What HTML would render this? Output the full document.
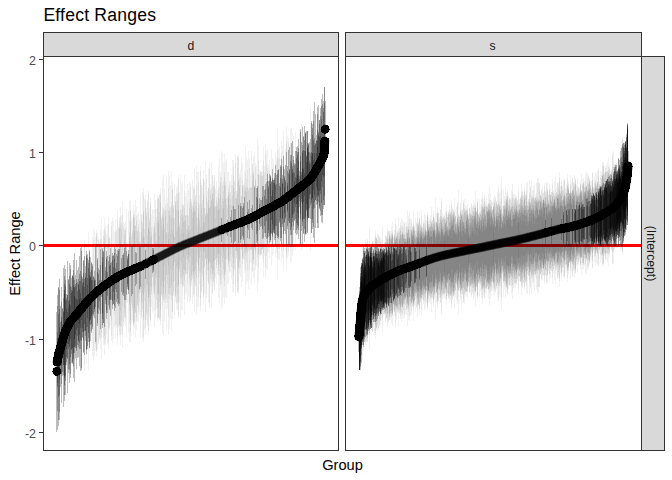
<!DOCTYPE html>
<html><head><meta charset="utf-8"><style>html,body{margin:0;padding:0;background:#fff;overflow:hidden}svg{display:block}text{font-family:"Liberation Sans",sans-serif}</style></head>
<body><svg width="672" height="480" viewBox="0 0 672 480">
<rect x="0" y="0" width="672" height="480" fill="#fff"/>
<text x="43.4" y="21.4" font-size="17.6" letter-spacing="0.2" fill="#000">Effect Ranges</text>
<rect x="43.5" y="32.5" width="295.0" height="24" fill="#D9D9D9" stroke="#333" stroke-width="1"/>
<text x="191.0" y="49.5" font-size="12.2" fill="#1A1A1A" text-anchor="middle">d</text>
<rect x="345.5" y="32.5" width="296.0" height="24" fill="#D9D9D9" stroke="#333" stroke-width="1"/>
<text x="492.6" y="49.5" font-size="12.2" fill="#1A1A1A" text-anchor="middle">s</text>
<rect x="641.5" y="56.5" width="23" height="394" fill="#D9D9D9" stroke="#333" stroke-width="1"/>
<text transform="translate(647.3,253.5) rotate(90)" font-size="12.2" fill="#1A1A1A" text-anchor="middle">(Intercept)</text>
<g shape-rendering="crispEdges" fill="#FF0000"><rect x="44" y="244" width="294" height="3"/><rect x="346" y="244" width="295" height="3"/></g>
<g stroke="#000" stroke-width="1" shape-rendering="crispEdges" fill="none">
<path stroke-opacity="0.055" d="M56.5 312v120M57.5 295v135M58.5 345v25M59.5 327v53M60.5 332v34M61.5 317v57M62.5 308v68M63.5 312v53M64.5 276v119M65.5 300v65M66.5 298v64M67.5 312v32M68.5 279v94M69.5 284v80M70.5 305v34M71.5 287v67M72.5 276v88M73.5 260v118M74.5 253v129M75.5 298v37M76.5 283v65M77.5 300v28M78.5 285v56M79.5 289v46M80.5 281v59M81.5 251v117M82.5 279v58M83.5 282v50M84.5 240v131M85.5 278v53M86.5 243v121M87.5 278v49M88.5 260v82M89.5 252v96M90.5 257v84M91.5 280v36M92.5 280v34M93.5 276v40M94.5 278v34M95.5 246v96M96.5 236v114M97.5 272v41M98.5 268v46M99.5 280v21M100.5 265v49M101.5 245v88M102.5 248v80M103.5 230v115M104.5 246v81M105.5 267v37M106.5 257v56M107.5 256v57M108.5 224v119M109.5 238v90M110.5 248v68M111.5 243v77M112.5 218v125M113.5 221v118M114.5 259v41M115.5 268v21M116.5 229v99M117.5 210v135M118.5 249v57M119.5 249v55M120.5 207v138M121.5 223v104M122.5 255v40M123.5 253v43M124.5 248v52M125.5 221v105M126.5 251v44M127.5 258v29M128.5 250v44M129.5 201v141M130.5 211v120M131.5 246v50M132.5 220v101M133.5 216v108M134.5 218v103M135.5 225v88M136.5 221v96M137.5 237v62M138.5 224v88M139.5 246v43M140.5 245v44M141.5 232v69M142.5 192v148M143.5 211v109M144.5 229v72M145.5 195v139M146.5 208v112M147.5 242v43M148.5 191v144M149.5 231v63M150.5 238v48M151.5 232v59M152.5 245v32M153.5 210v101M154.5 193v134M155.5 209v101M156.5 244v30M157.5 223v71M158.5 198v120M159.5 195v125M160.5 193v128M161.5 219v75M162.5 207v98M163.5 224v63M164.5 189v132M165.5 216v77M166.5 233v42M167.5 198v111M168.5 232v42M169.5 206v93M170.5 185v134M171.5 218v67M172.5 231v40M173.5 206v89M174.5 184v131M175.5 205v88M176.5 231v35M177.5 193v111M178.5 211v74M179.5 192v111M180.5 209v75M181.5 183v127M182.5 182v128M183.5 205v82M184.5 221v49M185.5 215v60M186.5 229v30M187.5 215v59M188.5 232v23M189.5 202v82M190.5 229v27M191.5 199v87M192.5 206v72M193.5 208v67M194.5 210v62M195.5 196v89M196.5 166v149M197.5 225v30M198.5 214v51M199.5 195v89M200.5 227v24M201.5 185v108M202.5 215v46M203.5 195v85M204.5 208v59M205.5 216v42M206.5 175v123M207.5 213v46M208.5 188v96M209.5 208v54M210.5 184v102M211.5 200v69M212.5 194v80M213.5 187v94M214.5 207v53M215.5 189v88M216.5 181v103M217.5 190v84M218.5 210v43M219.5 199v65M220.5 195v72M221.5 205v51M222.5 210v40M223.5 201v57M224.5 185v89M225.5 186v86M226.5 159v139M227.5 208v40M228.5 195v66M229.5 193v68M230.5 217v20M231.5 210v33M232.5 205v43M233.5 176v100M234.5 180v91M235.5 209v32M236.5 199v52M237.5 156v137M238.5 181v86M239.5 178v91M240.5 169v108M241.5 196v54M242.5 163v119M243.5 185v74M244.5 170v103M245.5 191v60M246.5 179v83M247.5 170v101M248.5 209v21M249.5 188v63M250.5 187v63M251.5 187v63M252.5 173v90M253.5 176v83M254.5 152v130M255.5 163v107M256.5 209v14M257.5 174v83M258.5 175v79M259.5 175v79M260.5 172v83M261.5 200v26M262.5 197v32M263.5 186v52M264.5 196v30M265.5 189v44M266.5 182v57M267.5 174v72M268.5 181v56M269.5 160v98M270.5 177v63M271.5 196v24M272.5 178v59M273.5 160v94M274.5 173v67M275.5 173v65M276.5 184v42M277.5 174v62M278.5 159v90M279.5 186v35M280.5 165v76M281.5 166v72M282.5 179v45M283.5 131v140M284.5 187v26M285.5 149v101M286.5 141v116M287.5 171v55M288.5 173v48M289.5 170v53M290.5 129v134M291.5 163v64M292.5 133v122M293.5 136v115M294.5 165v55M295.5 177v30M296.5 178v26M297.5 168v45M298.5 161v57M299.5 171v36M300.5 132v112M301.5 172v30M302.5 153v67M303.5 169v33M304.5 151v68M305.5 133v101M306.5 155v56M307.5 147v71M308.5 145v73M309.5 161v38M310.5 108v143M311.5 123v110M312.5 135v84M313.5 160v30M314.5 153v42M315.5 144v56M316.5 140v61M317.5 147v43M318.5 132v70M319.5 124v82M320.5 116v95M321.5 143v38M322.5 145v30M323.5 137v40M324.5 103v102M325.5 101v57"/>
<path stroke-opacity="0.055" d="M57.5 338v45M58.5 287v139M59.5 309v86M60.5 332v32M61.5 287v116M62.5 329v25M63.5 311v54M64.5 294v82M65.5 269v126M66.5 294v71M67.5 295v64M68.5 307v37M69.5 300v47M70.5 265v113M71.5 293v56M72.5 291v57M73.5 285v68M74.5 288v59M75.5 275v83M76.5 279v72M77.5 270v88M78.5 279v68M79.5 281v62M80.5 293v35M81.5 298v22M82.5 277v61M83.5 261v91M84.5 287v37M85.5 273v63M86.5 256v93M87.5 258v88M88.5 232v138M89.5 279v42M90.5 272v53M91.5 262v71M92.5 237v119M93.5 240v111M94.5 281v28M95.5 237v114M96.5 244v97M97.5 258v68M98.5 240v102M99.5 240v100M100.5 249v80M101.5 280v17M102.5 257v62M103.5 252v71M104.5 218v137M105.5 271v29M106.5 251v68M107.5 225v119M108.5 218v131M109.5 266v34M110.5 265v34M111.5 262v38M112.5 253v56M113.5 256v48M114.5 253v53M115.5 249v59M116.5 254v48M117.5 256v43M118.5 228v98M119.5 229v95M120.5 240v71M121.5 215v120M122.5 201v147M123.5 227v95M124.5 230v87M125.5 230v87M126.5 209v128M127.5 256v33M128.5 254v36M129.5 242v60M130.5 210v123M131.5 240v62M132.5 246v48M133.5 205v129M134.5 231v77M135.5 252v34M136.5 207v123M137.5 231v74M138.5 242v51M139.5 243v48M140.5 195v143M141.5 221v91M142.5 223v86M143.5 194v143M144.5 199v131M145.5 250v29M146.5 213v102M147.5 200v127M148.5 213v100M149.5 208v109M150.5 205v114M151.5 227v68M152.5 209v104M153.5 234v53M154.5 229v61M155.5 233v52M156.5 240v38M157.5 195v126M158.5 199v118M159.5 212v90M160.5 188v137M161.5 216v80M162.5 214v83M163.5 211v88M164.5 228v53M165.5 200v109M166.5 177v153M167.5 223v61M168.5 171v163M169.5 176v153M170.5 215v73M171.5 202v99M172.5 190v122M173.5 218v64M174.5 218v63M175.5 202v94M176.5 210v77M177.5 201v94M178.5 179v137M179.5 226v43M180.5 175v144M181.5 209v75M182.5 207v78M183.5 215v61M184.5 191v108M185.5 216v57M186.5 234v20M187.5 204v80M188.5 225v38M189.5 230v27M190.5 184v117M191.5 205v75M192.5 212v60M193.5 212v59M194.5 189v105M195.5 212v57M196.5 217v46M197.5 232v16M198.5 203v74M199.5 221v36M200.5 180v118M201.5 204v69M202.5 227v22M203.5 179v118M204.5 208v59M205.5 213v47M206.5 209v55M207.5 214v44M208.5 208v56M209.5 169v133M210.5 206v58M211.5 201v67M212.5 194v80M213.5 198v72M214.5 175v116M215.5 207v52M216.5 197v71M217.5 202v60M218.5 193v78M219.5 187v89M220.5 177v108M221.5 177v107M222.5 185v90M223.5 191v78M224.5 154v150M225.5 161v136M226.5 223v11M227.5 196v64M228.5 172v111M229.5 184v87M230.5 192v70M231.5 175v103M232.5 195v62M233.5 160v132M234.5 192v67M235.5 154v142M236.5 191v68M237.5 157v135M238.5 180v88M239.5 173v101M240.5 206v34M241.5 196v53M242.5 188v69M243.5 206v32M244.5 190v63M245.5 172v98M246.5 157v127M247.5 202v36M248.5 151v138M249.5 200v39M250.5 213v11M251.5 188v61M252.5 164v108M253.5 171v93M254.5 185v64M255.5 179v75M256.5 188v55M257.5 138v154M258.5 174v81M259.5 169v90M260.5 171v85M261.5 171v84M262.5 176v73M263.5 147v130M264.5 190v43M265.5 144v134M266.5 199v22M267.5 172v76M268.5 186v47M269.5 170v78M270.5 175v67M271.5 182v51M272.5 169v76M273.5 180v53M274.5 180v53M275.5 165v81M276.5 175v60M277.5 151v107M278.5 149v110M279.5 147v113M280.5 167v71M281.5 159v86M282.5 145v113M283.5 151v100M284.5 169v62M285.5 165v69M286.5 144v109M287.5 186v24M288.5 150v94M289.5 175v43M290.5 143v105M291.5 155v80M292.5 166v56M293.5 156v74M294.5 173v39M295.5 151v82M296.5 147v88M297.5 146v88M298.5 152v74M299.5 130v117M300.5 162v52M301.5 175v24M302.5 151v71M303.5 136v98M304.5 140v89M305.5 151v66M306.5 162v42M307.5 148v68M308.5 152v58M309.5 152v56M310.5 153v52M311.5 156v44M312.5 124v105M313.5 140v69M314.5 145v57M315.5 143v57M316.5 135v70M317.5 114v109M318.5 105v123M319.5 120v89M320.5 136v54M321.5 119v84M322.5 104v111M323.5 108v97M324.5 126v50"/>
<path stroke-opacity="0.055" d="M57.5 332v55M58.5 314v83M59.5 341v21M60.5 322v51M61.5 321v45M62.5 309v63M63.5 268v139M64.5 284v101M65.5 286v90M66.5 309v40M67.5 261v132M68.5 301v48M69.5 263v120M70.5 286v71M71.5 278v85M72.5 276v86M73.5 277v82M74.5 296v43M75.5 284v64M76.5 260v109M77.5 291v45M78.5 284v57M79.5 299v25M80.5 271v78M81.5 276v65M82.5 283v49M83.5 273v67M84.5 256v99M85.5 277v53M86.5 255v95M87.5 285v33M88.5 263v75M89.5 257v85M90.5 277v43M91.5 270v54M92.5 264v65M93.5 277v37M94.5 280v29M95.5 280v27M96.5 233v119M97.5 234v116M98.5 274v34M99.5 243v94M100.5 229v120M101.5 239v99M102.5 250v75M103.5 236v102M104.5 237v99M105.5 226v119M106.5 234v101M107.5 272v24M108.5 238v90M109.5 236v94M110.5 238v87M111.5 221v120M112.5 260v41M113.5 267v25M114.5 243v72M115.5 219v119M116.5 263v29M117.5 220v115M118.5 251v52M119.5 221v111M120.5 216v119M121.5 258v34M122.5 244v62M123.5 222v104M124.5 234v79M125.5 247v53M126.5 243v59M127.5 242v61M128.5 211v122M129.5 232v79M130.5 222v98M131.5 236v69M132.5 230v81M133.5 217v106M134.5 210v118M135.5 226v86M136.5 216v105M137.5 215v106M138.5 227v81M139.5 242v51M140.5 246v41M141.5 215v102M142.5 238v55M143.5 213v104M144.5 242v46M145.5 208v112M146.5 216v96M147.5 202v122M148.5 228v70M149.5 222v80M150.5 198v128M151.5 215v92M152.5 248v25M153.5 227v66M154.5 226v68M155.5 242v34M156.5 209v99M157.5 208v100M158.5 223v70M159.5 236v42M160.5 203v107M161.5 226v60M162.5 230v52M163.5 175v161M164.5 209v91M165.5 205v98M166.5 209v90M167.5 244v18M168.5 211v83M169.5 216v72M170.5 208v87M171.5 171v160M172.5 189v123M173.5 234v32M174.5 237v25M175.5 196v106M176.5 188v121M177.5 227v42M178.5 193v109M179.5 228v38M180.5 234v26M181.5 214v65M182.5 217v58M183.5 222v47M184.5 175v140M185.5 220v50M186.5 215v59M187.5 229v30M188.5 226v35M189.5 208v70M190.5 199v87M191.5 209v67M192.5 218v47M193.5 203v77M194.5 199v84M195.5 195v92M196.5 185v111M197.5 218v44M198.5 182v115M199.5 205v68M200.5 166v145M201.5 208v61M202.5 200v76M203.5 223v29M204.5 222v30M205.5 215v43M206.5 179v115M207.5 202v68M208.5 188v95M209.5 208v54M210.5 190v89M211.5 188v93M212.5 175v118M213.5 181v105M214.5 177v113M215.5 206v54M216.5 200v65M217.5 210v44M218.5 166v132M219.5 158v146M220.5 172v118M221.5 151v158M222.5 153v154M223.5 163v134M224.5 172v114M225.5 199v60M226.5 198v61M227.5 220v16M228.5 192v72M229.5 205v44M230.5 199v55M231.5 205v43M232.5 185v83M233.5 167v117M234.5 182v87M235.5 163v124M236.5 198v53M237.5 194v61M238.5 154v139M239.5 187v73M240.5 203v40M241.5 206v33M242.5 185v74M243.5 185v74M244.5 197v49M245.5 187v68M246.5 192v57M247.5 160v121M248.5 191v57M249.5 159v121M250.5 175v88M251.5 151v134M252.5 181v73M253.5 156v122M254.5 187v59M255.5 167v98M256.5 165v101M257.5 199v32M258.5 146v137M259.5 198v32M260.5 173v81M261.5 172v82M262.5 186v53M263.5 171v82M264.5 172v78M265.5 184v53M266.5 151v118M267.5 168v84M268.5 165v88M269.5 174v69M270.5 184v49M271.5 149v117M272.5 180v55M273.5 183v47M274.5 178v56M275.5 185v41M276.5 157v96M277.5 160v89M278.5 169v70M279.5 158v91M280.5 187v31M281.5 154v96M282.5 183v36M283.5 156v89M284.5 178v44M285.5 182v35M286.5 152v93M287.5 183v29M288.5 138v118M289.5 147v98M290.5 161v69M291.5 128v133M292.5 173v42M293.5 160v66M294.5 181v22M295.5 164v55M296.5 158v65M297.5 155v70M298.5 139v100M299.5 176v25M300.5 156v63M301.5 124v126M302.5 168v36M303.5 137v96M304.5 173v23M305.5 134v99M306.5 157v52M307.5 131v101M308.5 144v74M309.5 164v31M310.5 139v80M311.5 152v51M312.5 154v44M313.5 111v127M314.5 138v70M315.5 162v19M316.5 153v34M317.5 141v54M318.5 136v59M319.5 120v88M320.5 131v63M321.5 106v109M322.5 130v57M323.5 112v88M324.5 87v118"/>
<path stroke-opacity="0.055" d="M57.5 306v105M58.5 288v132M59.5 290v122M60.5 306v81M61.5 302v82M62.5 324v31M63.5 298v77M64.5 290v88M65.5 280v101M66.5 300v57M67.5 295v63M68.5 280v89M69.5 276v94M70.5 269v105M71.5 290v60M72.5 275v88M73.5 270v96M74.5 287v60M75.5 286v60M76.5 299v31M77.5 282v63M78.5 267v90M79.5 274v75M80.5 248v123M81.5 247v123M82.5 286v42M83.5 260v93M84.5 279v52M85.5 266v75M86.5 251v103M87.5 254v95M88.5 268v65M89.5 275v49M90.5 277v42M91.5 263v68M92.5 266v61M93.5 229v132M94.5 271v47M95.5 243v101M96.5 229v127M97.5 260v63M98.5 238v106M99.5 245v90M100.5 239v100M101.5 218v140M102.5 262v51M103.5 251v72M104.5 244v84M105.5 231v108M106.5 259v51M107.5 245v78M108.5 261v44M109.5 257v51M110.5 263v37M111.5 226v110M112.5 256v49M113.5 255v49M114.5 231v96M115.5 232v93M116.5 231v94M117.5 250v54M118.5 226v101M119.5 227v98M120.5 225v101M121.5 229v92M122.5 215v119M123.5 255v38M124.5 240v68M125.5 228v91M126.5 246v54M127.5 260v24M128.5 254v36M129.5 220v103M130.5 200v142M131.5 217v107M132.5 233v75M133.5 213v113M134.5 215v108M135.5 200v138M136.5 253v31M137.5 231v74M138.5 212v111M139.5 232v70M140.5 241v51M141.5 214v105M142.5 228v75M143.5 236v59M144.5 237v55M145.5 200v128M146.5 244v40M147.5 235v57M148.5 228v69M149.5 218v89M150.5 202v119M151.5 236v51M152.5 245v32M153.5 250v20M154.5 222v75M155.5 200v118M156.5 217v83M157.5 198v120M158.5 197v121M159.5 195v124M160.5 196v121M161.5 217v78M162.5 178v155M163.5 217v76M164.5 244v21M165.5 211v86M166.5 232v43M167.5 203v100M168.5 188v129M169.5 210v84M170.5 234v35M171.5 206v90M172.5 182v137M173.5 204v92M174.5 237v25M175.5 201v96M176.5 194v109M177.5 185v126M178.5 209v77M179.5 223v49M180.5 216v61M181.5 229v34M182.5 204v83M183.5 233v24M184.5 208v73M185.5 196v97M186.5 193v102M187.5 184v119M188.5 216v54M189.5 182v121M190.5 187v111M191.5 202v80M192.5 180v124M193.5 186v111M194.5 169v143M195.5 206v69M196.5 202v76M197.5 172v135M198.5 172v135M199.5 219v40M200.5 171v135M201.5 185v106M202.5 188v99M203.5 170v135M204.5 181v112M205.5 162v150M206.5 197v78M207.5 191v90M208.5 200v71M209.5 162v146M210.5 195v80M211.5 162v145M212.5 175v118M213.5 185v97M214.5 187v92M215.5 218v29M216.5 207v51M217.5 205v53M218.5 198v67M219.5 209v45M220.5 182v98M221.5 218v24M222.5 198v64M223.5 208v43M224.5 177v104M225.5 182v93M226.5 205v46M227.5 172v112M228.5 198v59M229.5 181v92M230.5 181v91M231.5 185v82M232.5 160v132M233.5 188v75M234.5 209v33M235.5 198v53M236.5 191v67M237.5 168v113M238.5 158v132M239.5 185v77M240.5 177v91M241.5 158v129M242.5 208v28M243.5 203v37M244.5 183v77M245.5 146v150M246.5 188v64M247.5 187v66M248.5 189v61M249.5 168v102M250.5 188v61M251.5 208v20M252.5 205v25M253.5 174v86M254.5 185v63M255.5 181v70M256.5 197v37M257.5 186v58M258.5 161v107M259.5 204v20M260.5 200v27M261.5 176v74M262.5 175v74M263.5 161v101M264.5 166v90M265.5 154v113M266.5 164v92M267.5 149v121M268.5 188v42M269.5 181v55M270.5 176v64M271.5 181v53M272.5 190v34M273.5 180v52M274.5 183v46M275.5 153v104M276.5 162v86M277.5 128v152M278.5 170v67M279.5 183v40M280.5 178v49M281.5 141v121M282.5 175v52M283.5 167v67M284.5 176v47M285.5 180v39M286.5 127v143M287.5 166v63M288.5 142v109M289.5 169v54M290.5 155v80M291.5 143v104M292.5 141v105M293.5 172v42M294.5 163v58M295.5 132v118M296.5 151v79M297.5 152v76M298.5 148v82M299.5 179v18M300.5 129v116M301.5 142v89M302.5 127v118M303.5 150v69M304.5 126v116M305.5 132v103M306.5 131v103M307.5 131v102M308.5 143v75M309.5 142v76M310.5 163v31M311.5 121v112M312.5 128v95M313.5 121v106M314.5 102v141M315.5 114v114M316.5 141v56M317.5 107v121M318.5 134v63M319.5 137v54M320.5 108v108M321.5 99v123M322.5 94v129M323.5 101v108M324.5 87v109"/>
<path stroke-opacity="0.055" d="M59.5 279v141M64.5 265v136M69.5 304v37M74.5 280v73M79.5 256v110M84.5 245v120M89.5 250v98M94.5 231v126M99.5 270v40M104.5 228v116M109.5 255v55M114.5 247v64M119.5 217v118M124.5 224v99M129.5 237v68M134.5 226v87M139.5 219v96M143.5 188v154M148.5 194v137M153.5 248v24M158.5 220v75M163.5 208v94M168.5 239v27M173.5 208v83M178.5 177v141M183.5 205v80M188.5 190v107M193.5 188v107M198.5 208v63M203.5 179v116M208.5 168v135M213.5 205v57M218.5 188v87M223.5 181v97M228.5 188v79M233.5 206v39M238.5 205v38M242.5 180v84M247.5 212v16M252.5 164v107M257.5 188v53M262.5 165v94M267.5 181v57M272.5 158v98M277.5 170v68M282.5 184v34M287.5 136v123M292.5 169v49M297.5 175v29M302.5 145v81M307.5 143v77M312.5 153v45M317.5 130v74M322.5 149v17"/>
<path stroke-opacity="0.22" d="M56.5 312v120M57.5 295v135M58.5 345v25M59.5 327v53M60.5 332v34M61.5 317v57M62.5 308v68M63.5 312v53M64.5 276v119M65.5 300v65M66.5 298v64M67.5 312v32M68.5 279v94M69.5 284v80M70.5 305v34M71.5 287v67M72.5 276v88M73.5 260v118M74.5 253v129M75.5 298v37M76.5 283v65M77.5 300v28M78.5 285v56M79.5 289v46M80.5 281v59M81.5 251v117M82.5 279v58M83.5 282v50M84.5 287v37M85.5 278v53M86.5 256v93M87.5 278v49M88.5 260v82M89.5 252v96M90.5 257v84M91.5 280v36M92.5 280v34M93.5 276v40M94.5 278v34M95.5 246v96M97.5 272v41M98.5 268v46M99.5 280v21M100.5 265v49M101.5 280v17M102.5 248v80M103.5 252v71M104.5 246v81M105.5 267v37M106.5 257v56M107.5 256v57M108.5 261v44M109.5 266v34M110.5 248v68M111.5 262v38M112.5 253v56M113.5 256v48M114.5 259v41M115.5 268v21M116.5 254v48M117.5 256v43M118.5 249v57M119.5 249v55M121.5 258v34M122.5 255v40M123.5 253v43M124.5 248v52M125.5 247v53M126.5 251v44M127.5 258v29M128.5 250v44M131.5 246v50M132.5 246v48M135.5 252v34M136.5 253v31M139.5 246v43M140.5 246v41M145.5 250v29M152.5 248v25M153.5 250v20M221.5 218v24M226.5 223v11M227.5 220v16M230.5 217v20M231.5 210v33M233.5 206v39M234.5 209v33M235.5 209v32M238.5 205v38M240.5 206v34M241.5 206v33M242.5 208v28M243.5 206v32M244.5 197v49M247.5 202v36M248.5 209v21M249.5 200v39M250.5 213v11M251.5 208v20M252.5 205v25M254.5 187v59M256.5 209v14M257.5 199v32M259.5 198v32M260.5 200v27M261.5 200v26M262.5 197v32M263.5 186v52M264.5 196v30M265.5 189v44M266.5 182v57M267.5 174v72M268.5 181v56M269.5 174v69M270.5 177v63M271.5 196v24M272.5 178v59M273.5 180v53M274.5 173v67M275.5 173v65M276.5 184v42M277.5 174v62M278.5 169v70M279.5 186v35M280.5 165v76M281.5 166v72M282.5 179v45M283.5 156v89M284.5 187v26M285.5 165v69M286.5 152v93M287.5 171v55M288.5 173v48M289.5 170v53M290.5 161v69M291.5 163v64M292.5 166v56M293.5 156v74M294.5 165v55M295.5 177v30M296.5 178v26M297.5 168v45M298.5 161v57M299.5 171v36M300.5 132v112M301.5 172v30M302.5 153v67M303.5 169v33M304.5 151v68M305.5 133v101M306.5 155v56M307.5 147v71M308.5 145v73M309.5 161v38M310.5 153v52M311.5 123v110M312.5 135v84M313.5 160v30M314.5 153v42M315.5 144v56M316.5 140v61M317.5 147v43M318.5 132v70M319.5 124v82M320.5 116v95M321.5 143v38M322.5 145v30M323.5 137v40M324.5 103v102M325.5 101v57"/>
<path stroke-opacity="0.22" d="M57.5 338v45M58.5 287v139M59.5 309v86M60.5 332v32M61.5 287v116M62.5 329v25M63.5 311v54M64.5 294v82M65.5 269v126M66.5 294v71M67.5 295v64M68.5 307v37M69.5 300v47M70.5 265v113M71.5 293v56M72.5 291v57M73.5 285v68M74.5 288v59M75.5 275v83M76.5 279v72M77.5 270v88M78.5 279v68M79.5 281v62M80.5 293v35M81.5 298v22M82.5 277v61M83.5 261v91M84.5 256v99M85.5 273v63M86.5 255v95M87.5 258v88M88.5 263v75M89.5 279v42M90.5 272v53M91.5 262v71M92.5 264v65M93.5 277v37M94.5 281v28M95.5 280v27M97.5 258v68M98.5 274v34M99.5 270v40M100.5 249v80M102.5 257v62M103.5 251v72M105.5 271v29M106.5 251v68M107.5 272v24M109.5 257v51M110.5 265v34M112.5 260v41M113.5 267v25M114.5 253v53M115.5 249v59M116.5 263v29M117.5 250v54M118.5 251v52M123.5 255v38M127.5 256v33M128.5 254v36M153.5 248v24M240.5 203v40M243.5 203v37M247.5 212v16M256.5 188v55M257.5 186v58M259.5 204v20M262.5 186v53M264.5 190v43M265.5 184v53M266.5 199v22M267.5 181v57M268.5 186v47M269.5 181v55M270.5 175v67M271.5 182v51M272.5 169v76M273.5 183v47M274.5 180v53M275.5 165v81M276.5 175v60M277.5 170v68M278.5 170v67M279.5 183v40M280.5 167v71M281.5 159v86M282.5 183v36M283.5 167v67M284.5 169v62M285.5 182v35M287.5 186v24M288.5 150v94M289.5 175v43M290.5 155v80M291.5 155v80M292.5 173v42M293.5 160v66M294.5 173v39M295.5 151v82M296.5 147v88M297.5 146v88M298.5 152v74M299.5 176v25M300.5 162v52M301.5 175v24M302.5 151v71M303.5 136v98M304.5 140v89M305.5 151v66M306.5 162v42M307.5 148v68M308.5 152v58M309.5 152v56M310.5 139v80M311.5 156v44M312.5 124v105M313.5 140v69M314.5 145v57M315.5 143v57M316.5 135v70M317.5 114v109M318.5 105v123M319.5 120v89M320.5 136v54M321.5 119v84M322.5 104v111M323.5 108v97M324.5 126v50"/>
<path stroke-opacity="0.22" d="M57.5 332v55M58.5 314v83M59.5 341v21M60.5 322v51M61.5 321v45M62.5 309v63M63.5 268v139M64.5 284v101M65.5 286v90M66.5 309v40M67.5 261v132M68.5 301v48M69.5 263v120M70.5 286v71M71.5 278v85M72.5 276v86M73.5 277v82M74.5 296v43M75.5 284v64M76.5 260v109M77.5 291v45M78.5 284v57M79.5 299v25M80.5 271v78M81.5 276v65M82.5 283v49M83.5 273v67M84.5 279v52M85.5 277v53M86.5 251v103M87.5 285v33M88.5 268v65M89.5 257v85M90.5 277v43M91.5 270v54M92.5 266v61M94.5 280v29M97.5 260v63M102.5 250v75M106.5 259v51M109.5 255v55M110.5 263v37M112.5 256v49M113.5 255v49M114.5 247v64M127.5 260v24M128.5 254v36M256.5 197v37M257.5 188v53M268.5 188v42M270.5 184v49M271.5 181v53M272.5 180v55M273.5 180v52M274.5 178v56M275.5 185v41M280.5 187v31M282.5 175v52M284.5 178v44M285.5 180v39M287.5 183v29M289.5 147v98M291.5 143v104M292.5 141v105M293.5 172v42M294.5 181v22M295.5 164v55M296.5 158v65M297.5 155v70M298.5 139v100M299.5 179v18M300.5 156v63M301.5 142v89M302.5 168v36M303.5 137v96M304.5 173v23M305.5 134v99M306.5 157v52M307.5 131v101M308.5 144v74M309.5 164v31M310.5 163v31M311.5 152v51M312.5 154v44M313.5 111v127M314.5 138v70M315.5 162v19M316.5 153v34M317.5 141v54M318.5 136v59M319.5 120v88M320.5 131v63M321.5 106v109M322.5 130v57M323.5 112v88M324.5 87v118"/>
<path stroke-opacity="0.22" d="M57.5 306v105M58.5 288v132M59.5 290v122M60.5 306v81M61.5 302v82M62.5 324v31M63.5 298v77M64.5 290v88M65.5 280v101M66.5 300v57M67.5 295v63M68.5 280v89M69.5 276v94M70.5 269v105M71.5 290v60M72.5 275v88M73.5 270v96M74.5 287v60M75.5 286v60M76.5 299v31M77.5 282v63M78.5 267v90M79.5 274v75M80.5 248v123M81.5 247v123M82.5 286v42M83.5 260v93M85.5 266v75M87.5 254v95M89.5 275v49M90.5 277v42M91.5 263v68M94.5 271v47M102.5 262v51M270.5 176v64M272.5 190v34M274.5 183v46M280.5 178v49M282.5 184v34M284.5 176v47M287.5 166v63M289.5 169v54M292.5 169v49M294.5 163v58M296.5 151v79M297.5 152v76M298.5 148v82M300.5 129v116M302.5 127v118M303.5 150v69M304.5 126v116M305.5 132v103M306.5 131v103M307.5 131v102M308.5 143v75M309.5 142v76M311.5 121v112M312.5 128v95M313.5 121v106M314.5 102v141M315.5 114v114M316.5 141v56M317.5 107v121M318.5 134v63M319.5 137v54M320.5 108v108M321.5 99v123M322.5 94v129M323.5 101v108M324.5 87v109"/>
<path stroke-opacity="0.22" d="M59.5 279v141M64.5 265v136M69.5 304v37M74.5 280v73M79.5 256v110M89.5 250v98M297.5 175v29M302.5 145v81M307.5 143v77M312.5 153v45M317.5 130v74M322.5 149v17"/>
</g>
<defs><path id="nsd" d="M56.9 371.3h0M57.1 362.0L57.4 360.1 57.6 359.1 57.9 358.2 58.1 357.1 58.3 355.9 58.6 354.9 58.8 353.8 59.0 352.8 59.3 351.9 59.5 351.0 59.8 350.2 60.0 349.3 60.2 348.5 60.5 347.7 60.7 346.9 60.9 346.1 61.2 345.2 61.4 344.4 61.7 343.5 61.9 342.5 62.1 341.6 62.4 340.7 62.6 339.8 62.8 339.0 63.1 338.2 63.3 337.4 63.6 336.7 63.8 336.0 64.0 335.2 64.3 334.5 64.8 333.2 65.2 331.9 65.7 330.7 66.2 329.6 66.7 328.5 67.1 327.4 67.6 326.4 68.1 325.4 68.6 324.4 69.0 323.6 69.5 322.8 70.0 322.0 70.7 321.0 71.4 320.1 72.1 319.3 72.8 318.6 73.6 317.9 74.3 317.1 75.0 316.3 75.7 315.5 76.4 314.6 77.1 313.8 77.8 312.9 78.6 312.0 79.3 311.2 80.0 310.3 80.7 309.4 81.4 308.5 82.1 307.6 82.8 306.7 83.6 305.9 84.3 305.0 85.0 304.1 85.7 303.3 86.4 302.4 87.1 301.6 87.8 300.8 88.6 300.0 89.3 299.3 90.0 298.5 90.7 297.8 91.4 297.1 92.1 296.4 92.8 295.7 93.5 295.0 94.3 294.3 95.0 293.6 95.7 293.0 96.4 292.3 97.1 291.7 97.8 291.1 98.5 290.5 99.3 289.9 100.0 289.3 100.7 288.8 101.4 288.2 102.1 287.6 102.8 287.1 103.5 286.5 104.3 286.0 105.0 285.4 105.7 284.9 106.4 284.4 107.1 283.8 107.8 283.3 108.5 282.8 109.3 282.3 110.0 281.8 110.7 281.3 111.4 280.8 112.1 280.3 112.8 279.8 113.5 279.4 114.3 278.9 115.0 278.5 115.7 278.0 116.4 277.6 117.1 277.1 117.8 276.7 118.5 276.3 119.2 275.9 120.0 275.5 120.7 275.1 121.4 274.8 122.1 274.4 122.8 274.0 123.5 273.7 124.2 273.4 125.0 273.0 125.7 272.7 126.4 272.4 127.1 272.1 127.8 271.8 128.5 271.4 129.2 271.1 130.0 270.8 130.7 270.5 131.4 270.2 132.1 269.9 132.8 269.6 133.5 269.3 134.2 269.0 135.0 268.7 135.7 268.4 136.4 268.1 137.1 267.8 137.8 267.5 138.5 267.2 139.2 266.9 140.0 266.5 140.7 266.2 141.4 265.8 142.1 265.5 142.8 265.1 143.5 264.8 144.2 264.5 145.0 264.1 145.7 263.7 146.4 263.4 147.1 263.0 147.8 262.7 148.5 262.3 149.2 262.0 149.9 261.6 150.7 261.2 151.4 260.9 152.1 260.5 152.8 260.1 153.5 259.8 154.2 259.4 154.9 259.1 155.7 258.7 156.4 258.3 157.1 258.0 157.8 257.6 158.5 257.2 159.2 256.9 159.9 256.5 160.7 256.2 161.4 255.8 162.1 255.4 162.8 255.1 163.5 254.7 164.2 254.3 164.9 254.0 165.7 253.6 166.4 253.2 167.1 252.9 167.8 252.5 168.5 252.1 169.2 251.8 169.9 251.4 170.7 251.0 171.4 250.7 172.1 250.3 172.8 249.9 173.5 249.6 174.2 249.2 174.9 248.9 175.7 248.5 176.4 248.2 177.1 247.8 177.8 247.5 178.5 247.2 179.2 246.8 179.9 246.5 180.6 246.2 181.4 245.9 182.1 245.6 182.8 245.3 183.5 245.0 184.2 244.7 184.9 244.4 185.6 244.1 186.4 243.8 187.1 243.5 187.8 243.3 188.5 243.0 189.2 242.7 189.9 242.4 190.6 242.1 191.4 241.9 192.1 241.6 192.8 241.3 193.5 241.0 194.2 240.8 194.9 240.5 195.6 240.2 196.4 239.9 197.1 239.7 197.8 239.4 198.5 239.1 199.2 238.8 199.9 238.5 200.6 238.2 201.4 238.0 202.1 237.7 202.8 237.4 203.5 237.1 204.2 236.8 204.9 236.5 205.6 236.2 206.3 236.0 207.1 235.7 207.8 235.4 208.5 235.1 209.2 234.8 209.9 234.5 210.6 234.2 211.3 234.0 212.1 233.7 212.8 233.4 213.5 233.1 214.2 232.8 214.9 232.5 215.6 232.2 216.3 232.0 217.1 231.7 217.8 231.4 218.5 231.1 219.2 230.8 219.9 230.5 220.6 230.2 221.3 230.0 222.1 229.7 222.8 229.4 223.5 229.1 224.2 228.8 224.9 228.5 225.6 228.3 226.3 228.0 227.1 227.7 227.8 227.4 228.5 227.1 229.2 226.9 229.9 226.6 230.6 226.3 231.3 226.0 232.1 225.8 232.8 225.5 233.5 225.2 234.2 225.0 234.9 224.7 235.6 224.4 236.3 224.1 237.0 223.9 237.8 223.6 238.5 223.3 239.2 223.0 239.9 222.8 240.6 222.5 241.3 222.2 242.0 221.9 242.8 221.6 243.5 221.3 244.2 221.0 244.9 220.7 245.6 220.4 246.3 220.1 247.0 219.8 247.8 219.5 248.5 219.2 249.2 218.9 249.9 218.5 250.6 218.2 251.3 217.9 252.0 217.5 252.8 217.2 253.5 216.8 254.2 216.4 254.9 216.0 255.6 215.7 256.3 215.3 257.0 214.9 257.8 214.5 258.5 214.1 259.2 213.7 259.9 213.3 260.6 212.9 261.3 212.5 262.0 212.1 262.8 211.7 263.5 211.3 264.2 210.9 264.9 210.6 265.6 210.2 266.3 209.8 267.0 209.4 267.7 209.1 268.5 208.7 269.2 208.3 269.9 208.0 270.6 207.6 271.3 207.3 272.0 206.9 272.7 206.5 273.5 206.2 274.2 205.8 274.9 205.4 275.6 205.0 276.3 204.6 277.0 204.2 277.7 203.8 278.5 203.4 279.2 203.0 279.9 202.6 280.6 202.1 281.3 201.7 282.0 201.2 282.7 200.7 283.5 200.2 284.2 199.7 284.9 199.2 285.6 198.7 286.3 198.2 287.0 197.7 287.7 197.1 288.5 196.6 289.2 196.0 289.9 195.5 290.6 194.9 291.3 194.4 292.0 193.8 292.7 193.3 293.4 192.7 294.2 192.1 294.9 191.6 295.6 191.0 296.3 190.4 297.0 189.8 297.7 189.3 298.4 188.7 299.2 188.2 299.9 187.6 300.6 187.0 301.3 186.5 302.0 185.9 302.7 185.4 303.4 184.8 304.2 184.2 304.9 183.6 305.6 183.0 306.3 182.4 307.0 181.8 307.7 181.2 308.4 180.6 309.2 179.9 309.9 179.1 310.6 178.3 311.3 177.4 312.0 176.5 312.7 175.4 313.2 174.7 313.7 174.0 314.2 173.3 314.6 172.5 315.1 171.7 315.6 170.9 316.1 170.0 316.5 169.1 317.0 168.3 317.5 167.4 318.0 166.6 318.4 165.8 318.9 165.0 319.4 164.2 319.9 163.3 320.3 162.5 320.8 161.6 321.3 160.7 321.8 159.8 322.2 158.8 322.7 157.7 323.2 156.5 323.7 155.3 323.9 154.5 324.1 153.3 324.4 150.4 324.6 145.6 324.9 141.1M325.1 129.2h0"/></defs><g fill="none" stroke="#000" stroke-linecap="round" stroke-linejoin="round"><use href="#nsd" stroke-opacity="0.45" stroke-width="9.0"/><use href="#nsd" stroke-opacity="0.782" stroke-width="7.4"/></g>
<path d="M56.9 371.3h0M57.1 362.0L57.4 360.1 57.6 359.1 57.9 358.2 58.1 357.1 58.3 355.9 58.6 354.9 58.8 353.8 59.0 352.8 59.3 351.9 59.5 351.0 59.8 350.2 60.0 349.3 60.2 348.5 60.5 347.7 60.7 346.9 60.9 346.1 61.2 345.2 61.4 344.4 61.7 343.5 61.9 342.5 62.1 341.6 62.4 340.7 62.6 339.8 62.8 339.0 63.1 338.2 63.3 337.4 63.6 336.7 63.8 336.0 64.0 335.2 64.3 334.5 64.8 333.2 65.2 331.9 65.7 330.7 66.2 329.6 66.7 328.5 67.1 327.4 67.6 326.4 68.1 325.4 68.6 324.4 69.0 323.6 69.5 322.8 70.0 322.0 70.7 321.0 71.4 320.1 72.1 319.3 72.8 318.6 73.6 317.9 74.3 317.1 75.0 316.3 75.7 315.5 76.4 314.6 77.1 313.8 77.8 312.9 78.6 312.0 79.3 311.2 80.0 310.3 80.7 309.4 81.4 308.5 82.1 307.6 82.8 306.7 83.6 305.9 83.8 305.6M84.3 305.0L84.7 304.4M85.2 303.8L85.9 303.0M86.4 302.4L87.1 301.6 87.8 300.8 88.1 300.6M88.6 300.0L89.3 299.3 90.0 298.5 90.7 297.8 91.4 297.1 92.1 296.4M92.6 295.9L93.1 295.4M93.5 295.0h0M94.0 294.5L94.7 293.9M95.2 293.4h0M95.7 293.0h0M97.1 291.7L97.4 291.5M97.8 291.1L98.1 290.9M98.5 290.5h0M99.0 290.1h0M100.0 289.3L100.4 288.9M101.4 288.2h0M102.1 287.6L102.8 287.1M103.3 286.7h0M103.8 286.3L104.0 286.1M105.2 285.2L105.4 285.1M106.2 284.5L106.4 284.4M106.9 284.0L107.1 283.8M107.6 283.5h0M108.8 282.6h0M109.3 282.3h0M109.7 281.9L110.4 281.4M110.9 281.1h0M111.4 280.8h0M112.3 280.2L112.8 279.8M113.3 279.5L114.0 279.1 114.3 278.9M115.0 278.5L115.4 278.2M116.4 277.6L116.6 277.4M117.3 277.0h0M117.8 276.7L118.1 276.6M118.5 276.3h0M119.0 276.0h0M121.6 274.6h0M122.1 274.4h0M123.1 273.9h0M123.8 273.6L124.0 273.5M125.7 272.7h0M126.2 272.5h0M127.1 272.1L127.3 272.0M127.8 271.8L128.3 271.5M128.8 271.3h0M131.1 270.3h0M132.3 269.8h0M135.4 268.5h0M136.9 267.9h0M139.0 267.0h0M140.7 266.2h0M145.4 263.9h0M152.6 260.3h0M153.8 259.7L154.0 259.5M221.8 229.8h0M226.3 228.0h0M227.5 227.5h0M230.1 226.5h0M231.1 226.1h0M234.0 225.0h0M234.9 224.7L235.1 224.6M239.0 223.1h0M240.4 222.6L240.6 222.5M241.6 222.1h0M242.8 221.6h0M243.5 221.3h0M243.9 221.1h0M244.7 220.8h0M247.3 219.7h0M248.0 219.4L248.2 219.3M249.4 218.8h0M250.4 218.3h0M251.8 217.6h0M252.8 217.2h0M254.7 216.2h0M256.1 215.4L256.3 215.3M256.8 215.0h0M257.5 214.6L258.0 214.4M259.7 213.4L259.9 213.3M260.8 212.8L261.1 212.6M262.0 212.1h0M262.5 211.9h0M263.2 211.5h0M264.2 210.9L264.4 210.8M265.1 210.4h0M265.6 210.2h0M266.1 209.9L266.3 209.8M267.0 209.4h0M268.0 208.9L268.5 208.7M268.9 208.5h0M269.7 208.1L270.4 207.7 271.1 207.4 271.3 207.3M271.8 207.0L272.5 206.7 272.7 206.5M273.5 206.2L274.2 205.8 274.9 205.4 275.6 205.0M276.1 204.8L276.3 204.6M277.0 204.2h0M278.0 203.7h0M278.7 203.3L279.2 203.0M279.9 202.6L280.6 202.1 281.3 201.7M282.0 201.2h0M282.5 200.9L283.0 200.6M283.7 200.1L284.4 199.6 284.9 199.2M285.4 198.9L285.8 198.5M286.5 198.0h0M287.0 197.7L287.7 197.1M288.2 196.8L288.5 196.6M289.2 196.0L289.9 195.5M290.6 194.9L291.3 194.4M291.8 194.0h0M292.3 193.6L293.0 193.1M293.4 192.7L294.2 192.1 294.9 191.6 295.6 191.0M296.1 190.6L296.8 190.0 297.5 189.5 298.2 188.9 298.9 188.3 299.2 188.2M299.6 187.8L300.4 187.2 301.1 186.7 301.3 186.5M301.8 186.1L302.5 185.5 303.2 185.0 303.9 184.4 304.6 183.8 305.3 183.2 306.1 182.6 306.8 182.0 307.5 181.4 308.2 180.8 308.9 180.1 309.6 179.4 309.9 179.1M310.3 178.6L311.1 177.7 311.8 176.8 312.5 175.8 313.0 175.1 313.4 174.4 313.9 173.6 314.4 172.9 314.9 172.1 315.3 171.3 315.8 170.4 316.3 169.6 316.8 168.7 317.2 167.8 317.7 167.0 318.2 166.2 318.7 165.4 319.2 164.6 319.6 163.7 320.1 162.9 320.6 162.0 321.1 161.1 321.5 160.2 322.0 159.3 322.5 158.3 323.0 157.1 323.4 156.0 323.9 154.5 324.1 153.3 324.4 150.4 324.6 145.6 324.9 141.1M325.1 129.2h0" fill="none" stroke="#000" stroke-width="9.0" stroke-linecap="round" stroke-linejoin="round" shape-rendering="crispEdges"/>
<g stroke="#000" stroke-width="1" shape-rendering="crispEdges" fill="none">
<path stroke-opacity="0.055" d="M358.5 323v29M359.5 309v55M360.5 283v84M361.5 263v100M362.5 245v116M363.5 257v84M364.5 264v64M365.5 265v58M366.5 243v99M367.5 249v85M368.5 254v72M369.5 244v91M370.5 252v73M371.5 263v49M372.5 253v67M373.5 256v60M374.5 257v56M375.5 250v69M376.5 237v93M377.5 240v86M378.5 264v37M379.5 263v38M380.5 249v64M381.5 262v37M382.5 261v38M383.5 251v57M384.5 249v60M385.5 245v66M386.5 245v65M387.5 228v99M388.5 231v91M389.5 234v84M390.5 234v83M391.5 261v28M392.5 260v29M393.5 236v76M394.5 235v77M395.5 230v86M396.5 234v77M397.5 236v72M398.5 255v33M399.5 247v49M400.5 238v66M401.5 234v73M402.5 226v88M403.5 247v45M404.5 241v56M405.5 239v59M406.5 244v49M407.5 232v72M408.5 250v36M409.5 238v59M410.5 234v67M411.5 230v74M412.5 236v61M413.5 211v110M414.5 247v37M415.5 248v35M416.5 251v28M417.5 238v53M418.5 236v56M419.5 250v28M420.5 234v59M421.5 237v52M422.5 237v51M423.5 224v76M424.5 227v70M425.5 230v63M426.5 230v62M427.5 221v80M428.5 224v73M429.5 219v83M430.5 230v60M431.5 237v45M432.5 244v31M433.5 230v57M434.5 230v57M435.5 230v57M436.5 237v42M437.5 207v101M438.5 227v61M439.5 231v52M440.5 241v32M441.5 202v109M442.5 237v38M443.5 236v40M444.5 232v48M445.5 211v89M446.5 212v86M447.5 227v56M448.5 212v86M449.5 230v50M450.5 215v79M451.5 216v77M452.5 217v74M453.5 217v74M454.5 198v111M455.5 225v57M456.5 227v52M457.5 217v72M458.5 226v54M459.5 223v59M460.5 203v98M461.5 231v42M462.5 231v42M463.5 222v60M464.5 225v53M465.5 211v80M466.5 211v81M467.5 210v81M468.5 219v63M469.5 218v64M470.5 223v54M471.5 215v70M472.5 219v61M473.5 223v53M474.5 216v67M475.5 208v83M476.5 212v74M477.5 202v94M478.5 215v67M479.5 213v70M480.5 205v86M481.5 220v56M482.5 208v80M483.5 223v49M484.5 217v61M485.5 214v66M486.5 228v37M487.5 211v71M488.5 203v87M489.5 211v71M490.5 200v92M491.5 213v66M492.5 217v57M493.5 221v49M494.5 217v56M495.5 221v48M496.5 219v52M497.5 192v105M498.5 204v81M499.5 205v79M500.5 209v70M501.5 229v30M502.5 220v47M503.5 216v55M504.5 218v50M505.5 225v36M506.5 220v46M507.5 220v45M508.5 210v65M509.5 217v50M510.5 214v56M511.5 190v103M512.5 227v29M513.5 215v52M514.5 207v69M515.5 212v58M516.5 204v74M517.5 214v53M518.5 214v52M519.5 203v74M520.5 203v73M521.5 196v88M522.5 206v67M523.5 215v49M524.5 211v55M525.5 205v67M526.5 206v65M527.5 202v72M528.5 221v34M529.5 195v85M530.5 188v99M531.5 210v54M532.5 206v61M533.5 191v91M534.5 210v53M535.5 201v70M536.5 193v86M537.5 202v67M538.5 215v41M539.5 191v88M540.5 201v68M541.5 189v91M542.5 217v34M543.5 200v68M544.5 207v54M545.5 203v61M546.5 208v50M547.5 192v82M548.5 201v63M549.5 206v53M550.5 195v74M551.5 201v61M552.5 207v49M553.5 199v64M554.5 203v56M555.5 202v58M556.5 206v49M557.5 198v64M558.5 195v69M559.5 193v74M560.5 186v87M561.5 206v47M562.5 209v40M563.5 195v68M564.5 196v65M565.5 206v45M566.5 211v35M567.5 203v51M568.5 184v87M569.5 193v69M570.5 203v49M571.5 193v69M572.5 178v98M573.5 197v59M574.5 204v45M575.5 209v35M576.5 190v72M577.5 197v57M578.5 198v54M579.5 205v40M580.5 186v77M581.5 192v65M582.5 196v57M583.5 204v40M584.5 197v53M585.5 193v60M586.5 197v51M587.5 202v41M588.5 185v74M589.5 201v41M590.5 188v66M591.5 196v50M592.5 180v81M593.5 191v58M594.5 203v33M595.5 182v74M596.5 194v49M597.5 199v39M598.5 193v49M599.5 198v39M600.5 201v32M601.5 195v43M602.5 192v47M603.5 174v82M604.5 188v52M605.5 167v93M606.5 181v64M607.5 179v67M608.5 158v108M609.5 194v34M610.5 192v37M611.5 170v80M612.5 167v85M613.5 187v43M614.5 172v71M615.5 165v83M616.5 163v85M617.5 180v48M618.5 169v67M619.5 172v59M620.5 148v104M621.5 174v49M622.5 142v109M623.5 164v60M624.5 165v53M625.5 171v35M626.5 162v43M627.5 136v80M628.5 151v31"/>
<path stroke-opacity="0.055" d="M359.5 301v69M360.5 278v92M361.5 276v72M362.5 263v79M363.5 271v55M364.5 275v42M365.5 272v44M366.5 270v44M367.5 241v101M368.5 265v51M369.5 258v62M370.5 257v63M371.5 260v55M372.5 242v90M373.5 264v44M374.5 266v38M375.5 231v107M376.5 270v28M377.5 259v48M378.5 261v43M379.5 259v46M380.5 261v41M381.5 252v57M382.5 227v106M383.5 253v53M384.5 255v48M385.5 260v37M386.5 253v50M387.5 236v82M388.5 247v59M389.5 239v74M390.5 240v71M391.5 237v76M392.5 234v81M393.5 248v52M394.5 248v51M395.5 224v98M396.5 237v71M397.5 243v58M398.5 254v35M399.5 239v65M400.5 235v72M401.5 254v33M402.5 233v74M403.5 236v67M404.5 221v97M405.5 250v38M406.5 241v55M407.5 235v66M408.5 229v78M409.5 239v57M410.5 244v46M411.5 222v89M412.5 226v81M413.5 231v70M414.5 231v70M415.5 239v53M416.5 223v84M417.5 244v41M418.5 222v84M419.5 235v57M420.5 231v65M421.5 235v57M422.5 239v47M423.5 233v58M424.5 235v54M425.5 237v49M426.5 246v31M427.5 235v52M428.5 230v61M429.5 227v66M430.5 226v68M431.5 221v77M432.5 220v78M433.5 232v54M434.5 235v47M435.5 228v61M436.5 233v50M437.5 226v63M438.5 213v89M439.5 233v48M440.5 234v46M441.5 223v67M442.5 219v75M443.5 220v72M444.5 228v56M445.5 231v49M446.5 226v58M447.5 230v51M448.5 228v53M449.5 223v63M450.5 213v83M451.5 212v85M452.5 221v66M453.5 215v78M454.5 213v81M455.5 210v87M456.5 237v32M457.5 219v68M458.5 215v76M459.5 232v41M460.5 220v65M461.5 216v72M462.5 222v60M463.5 202v100M464.5 229v45M465.5 232v39M466.5 210v82M467.5 222v58M468.5 215v71M469.5 223v55M470.5 237v26M471.5 215v70M472.5 228v43M473.5 218v63M474.5 220v59M475.5 220v58M476.5 211v76M477.5 198v101M478.5 222v53M479.5 225v46M480.5 231v35M481.5 210v76M482.5 226v43M483.5 219v58M484.5 215v65M485.5 206v82M486.5 223v48M487.5 204v85M488.5 209v75M489.5 219v55M490.5 210v72M491.5 216v60M492.5 227v38M493.5 210v71M494.5 202v87M495.5 228v34M496.5 201v87M497.5 220v49M498.5 203v83M499.5 229v30M500.5 210v68M501.5 220v47M502.5 214v59M503.5 224v38M504.5 209v68M505.5 208v70M506.5 200v86M507.5 216v53M508.5 218v49M509.5 212v61M510.5 218v48M511.5 220v44M512.5 216v51M513.5 194v94M514.5 215v53M515.5 208v66M516.5 210v62M517.5 212v57M518.5 212v56M519.5 209v62M520.5 199v82M521.5 225v29M522.5 208v63M523.5 210v59M524.5 215v48M525.5 225v28M526.5 191v95M527.5 182v112M528.5 202v72M529.5 214v47M530.5 210v54M531.5 199v76M532.5 213v48M533.5 198v77M534.5 200v72M535.5 201v70M536.5 182v108M537.5 202v67M538.5 214v43M539.5 211v48M540.5 196v77M541.5 200v69M542.5 207v55M543.5 199v70M544.5 192v83M545.5 198v71M546.5 207v52M547.5 206v54M548.5 211v43M549.5 190v84M550.5 206v52M551.5 207v50M552.5 179v105M553.5 193v76M554.5 199v64M555.5 194v74M556.5 208v45M557.5 199v63M558.5 185v90M559.5 206v47M560.5 195v69M561.5 186v87M562.5 190v78M563.5 180v97M564.5 202v53M565.5 204v49M566.5 193v71M567.5 188v80M568.5 210v36M569.5 200v56M570.5 194v67M571.5 192v70M572.5 199v56M573.5 205v44M574.5 213v27M575.5 181v90M576.5 205v41M577.5 196v60M578.5 196v58M579.5 193v64M580.5 180v89M581.5 202v44M582.5 185v78M583.5 182v83M584.5 181v85M585.5 199v48M586.5 186v73M587.5 196v53M588.5 188v68M589.5 189v65M590.5 201v40M591.5 195v51M592.5 172v97M593.5 194v52M594.5 183v73M595.5 186v67M596.5 197v44M597.5 195v46M598.5 170v95M599.5 185v65M600.5 171v91M601.5 187v58M602.5 191v49M603.5 178v74M604.5 190v49M605.5 172v83M606.5 188v50M607.5 182v61M608.5 185v54M609.5 186v50M610.5 181v59M611.5 186v48M612.5 181v56M613.5 167v83M614.5 179v57M615.5 167v79M616.5 191v28M617.5 183v42M618.5 168v70M619.5 165v72M620.5 178v44M621.5 175v46M622.5 172v48M623.5 153v82M624.5 151v81M625.5 141v94M626.5 147v72M627.5 130v91"/>
<path stroke-opacity="0.055" d="M359.5 299v71M360.5 296v53M361.5 267v88M362.5 260v85M363.5 259v79M364.5 261v69M365.5 251v86M366.5 255v75M367.5 244v94M368.5 257v66M369.5 228v122M370.5 247v82M371.5 253v69M372.5 242v89M373.5 253v66M374.5 261v48M375.5 247v75M376.5 246v75M377.5 262v42M378.5 263v39M379.5 254v55M380.5 248v67M381.5 260v41M382.5 256v48M383.5 244v71M384.5 243v71M385.5 253v50M386.5 251v53M387.5 240v74M388.5 256v41M389.5 236v80M390.5 231v89M391.5 245v60M392.5 252v45M393.5 244v60M394.5 248v51M395.5 240v65M396.5 238v68M397.5 236v72M398.5 256v31M399.5 239v65M400.5 250v41M401.5 236v69M402.5 234v72M403.5 238v63M404.5 242v55M405.5 223v92M406.5 227v83M407.5 238v60M408.5 227v82M409.5 234v67M410.5 219v97M411.5 232v70M412.5 236v60M413.5 236v60M414.5 225v81M415.5 237v56M416.5 243v44M417.5 233v63M418.5 239v51M419.5 242v44M420.5 225v77M421.5 231v64M422.5 232v62M423.5 232v61M424.5 223v78M425.5 215v93M426.5 246v30M427.5 232v58M428.5 231v59M429.5 229v62M430.5 227v66M431.5 207v105M432.5 228v63M433.5 218v82M434.5 222v73M435.5 234v49M436.5 235v45M437.5 227v62M438.5 213v88M439.5 226v62M440.5 216v82M441.5 219v74M442.5 217v78M443.5 233v45M444.5 234v43M445.5 218v75M446.5 237v37M447.5 230v50M448.5 236v38M449.5 229v51M450.5 230v49M451.5 223v62M452.5 209v90M453.5 224v59M454.5 219v69M455.5 224v59M456.5 221v64M457.5 225v56M458.5 228v50M459.5 217v71M460.5 219v67M461.5 216v72M462.5 209v86M463.5 215v73M464.5 210v83M465.5 211v80M466.5 222v58M467.5 216v70M468.5 224v54M469.5 208v84M470.5 233v34M471.5 224v52M472.5 216v67M473.5 205v89M474.5 208v83M475.5 216v66M476.5 219v60M477.5 209v80M478.5 215v67M479.5 222v53M480.5 211v74M481.5 198v100M482.5 199v98M483.5 204v87M484.5 202v91M485.5 215v64M486.5 211v72M487.5 213v67M488.5 204v85M489.5 187v118M490.5 204v84M491.5 210v72M492.5 202v88M493.5 229v33M494.5 195v100M495.5 213v64M496.5 201v88M497.5 219v51M498.5 216v57M499.5 201v86M500.5 202v84M501.5 188v111M502.5 221v45M503.5 220v47M504.5 224v38M505.5 214v58M506.5 207v71M507.5 196v93M508.5 204v76M509.5 218v48M510.5 214v56M511.5 209v66M512.5 210v63M513.5 219v45M514.5 209v64M515.5 212v57M516.5 198v86M517.5 211v59M518.5 205v71M519.5 217v46M520.5 213v54M521.5 205v69M522.5 200v79M523.5 208v62M524.5 205v68M525.5 194v89M526.5 198v81M527.5 206v65M528.5 222v32M529.5 192v91M530.5 204v66M531.5 210v54M532.5 217v40M533.5 197v79M534.5 215v43M535.5 195v82M536.5 218v35M537.5 208v55M538.5 210v51M539.5 183v104M540.5 202v65M541.5 198v73M542.5 207v55M543.5 203v62M544.5 201v66M545.5 197v73M546.5 207v52M547.5 204v58M548.5 204v57M549.5 213v39M550.5 200v64M551.5 212v40M552.5 205v53M553.5 190v83M554.5 200v62M555.5 208v45M556.5 187v87M557.5 195v70M558.5 199v62M559.5 208v44M560.5 197v65M561.5 206v46M562.5 200v58M563.5 207v44M564.5 199v60M565.5 201v54M566.5 210v37M567.5 204v49M568.5 196v64M569.5 193v70M570.5 190v75M571.5 194v67M572.5 198v58M573.5 201v52M574.5 196v61M575.5 184v85M576.5 191v69M577.5 200v51M578.5 186v79M579.5 203v44M580.5 199v52M581.5 194v61M582.5 179v90M583.5 184v79M584.5 192v62M585.5 191v64M586.5 171v103M587.5 193v59M588.5 190v64M589.5 191v61M590.5 193v56M591.5 200v41M592.5 187v66M593.5 186v67M594.5 195v49M595.5 188v62M596.5 192v53M597.5 200v36M598.5 191v54M599.5 186v63M600.5 189v56M601.5 195v42M602.5 176v79M603.5 198v33M604.5 187v54M605.5 189v49M606.5 172v81M607.5 177v71M608.5 174v75M609.5 175v73M610.5 171v79M611.5 172v76M612.5 192v34M613.5 172v73M614.5 169v77M615.5 179v55M616.5 184v42M617.5 170v68M618.5 159v87M619.5 174v54M620.5 176v48M621.5 147v102M622.5 167v58M623.5 177v33M624.5 172v39M625.5 158v59M626.5 134v96M627.5 125v100"/>
<path stroke-opacity="0.055" d="M359.5 297v73M360.5 292v59M361.5 281v58M362.5 284v36M363.5 251v94M364.5 267v56M365.5 276v35M366.5 248v88M367.5 254v74M368.5 252v77M369.5 245v88M370.5 258v61M371.5 247v81M372.5 261v51M373.5 256v59M374.5 237v96M375.5 235v98M376.5 254v60M377.5 257v52M378.5 234v96M379.5 245v74M380.5 249v65M381.5 258v45M382.5 249v61M383.5 253v52M384.5 252v54M385.5 244v68M386.5 236v83M387.5 252v50M388.5 239v75M389.5 239v74M390.5 244v63M391.5 235v79M392.5 236v77M393.5 245v58M394.5 249v49M395.5 241v63M396.5 226v93M397.5 232v80M398.5 246v52M399.5 249v44M400.5 231v79M401.5 245v51M402.5 260v19M403.5 246v47M404.5 242v54M405.5 238v61M406.5 255v27M407.5 233v71M408.5 216v104M409.5 230v75M410.5 243v48M411.5 218v97M412.5 235v63M413.5 241v50M414.5 230v71M415.5 235v61M416.5 241v48M417.5 225v79M418.5 242v44M419.5 218v91M420.5 240v47M421.5 210v106M422.5 243v39M423.5 238v49M424.5 234v56M425.5 229v65M426.5 231v60M427.5 215v92M428.5 231v59M429.5 228v64M430.5 227v66M431.5 231v57M432.5 223v72M433.5 217v83M434.5 225v67M435.5 240v36M436.5 213v90M437.5 226v63M438.5 219v76M439.5 236v42M440.5 217v80M441.5 229v55M442.5 231v50M443.5 217v77M444.5 216v79M445.5 224v63M446.5 214v82M447.5 234v42M448.5 231v48M449.5 210v89M450.5 214v80M451.5 212v84M452.5 225v57M453.5 230v48M454.5 232v43M455.5 227v53M456.5 206v94M457.5 235v35M458.5 190v125M459.5 231v43M460.5 227v50M461.5 215v74M462.5 219v66M463.5 217v70M464.5 228v47M465.5 235v32M466.5 221v60M467.5 225v52M468.5 219v63M469.5 208v85M470.5 227v47M471.5 215v70M472.5 216v68M473.5 228v43M474.5 218v63M475.5 235v28M476.5 228v42M477.5 222v53M478.5 214v69M479.5 216v65M480.5 213v70M481.5 222v52M482.5 211v74M483.5 218v59M484.5 209v76M485.5 213v68M486.5 206v82M487.5 208v77M488.5 214v65M489.5 213v66M490.5 193v106M491.5 211v70M492.5 222v47M493.5 203v85M494.5 215v61M495.5 227v36M496.5 203v83M497.5 213v63M498.5 226v36M499.5 193v102M500.5 226v36M501.5 218v52M502.5 223v42M503.5 204v79M504.5 222v42M505.5 199v88M506.5 220v46M507.5 208v69M508.5 196v93M509.5 223v38M510.5 206v71M511.5 227v29M512.5 213v57M513.5 212v59M514.5 218v46M515.5 218v46M516.5 214v54M517.5 203v75M518.5 213v55M519.5 213v54M520.5 207v65M521.5 192v95M522.5 206v66M523.5 215v48M524.5 190v98M525.5 196v85M526.5 201v74M527.5 217v42M528.5 217v41M529.5 200v76M530.5 202v70M531.5 208v59M532.5 224v25M533.5 215v43M534.5 182v109M535.5 198v77M536.5 206v59M537.5 197v77M538.5 202v66M539.5 201v68M540.5 216v37M541.5 211v47M542.5 203v62M543.5 200v68M544.5 204v59M545.5 202v63M546.5 205v56M547.5 213v40M548.5 205v55M549.5 210v44M550.5 195v74M551.5 195v73M552.5 203v57M553.5 203v56M554.5 200v62M555.5 208v45M556.5 208v45M557.5 209v42M558.5 188v84M559.5 209v41M560.5 200v58M561.5 182v94M562.5 200v58M563.5 192v74M564.5 206v45M565.5 209v39M566.5 193v71M567.5 186v84M568.5 190v76M569.5 194v67M570.5 195v65M571.5 204v46M572.5 190v74M573.5 190v73M574.5 187v78M575.5 201v50M576.5 201v50M577.5 198v55M578.5 209v33M579.5 196v57M580.5 193v63M581.5 191v66M582.5 201v46M583.5 207v33M584.5 192v63M585.5 191v64M586.5 206v33M587.5 198v49M588.5 184v76M589.5 189v65M590.5 204v34M591.5 198v46M592.5 183v75M593.5 192v56M594.5 189v61M595.5 205v28M596.5 174v89M597.5 207v22M598.5 188v59M599.5 191v52M600.5 187v59M601.5 191v50M602.5 190v51M603.5 166v98M604.5 184v60M605.5 181v65M606.5 187v51M607.5 179v67M608.5 181v61M609.5 182v58M610.5 174v72M611.5 173v74M612.5 191v36M613.5 176v64M614.5 179v57M615.5 165v82M616.5 165v80M617.5 185v37M618.5 178v49M619.5 179v44M620.5 176v47M621.5 179v38M622.5 162v67M623.5 155v77M624.5 153v75M625.5 148v79M626.5 160v43M627.5 123v102"/>
<path stroke-opacity="0.055" d="M359.5 295v75M360.5 295v51M361.5 284v50M362.5 282v39M363.5 269v57M364.5 251v88M365.5 257v73M366.5 257v70M367.5 244v94M368.5 255v70M369.5 246v87M370.5 247v82M371.5 258v59M372.5 267v38M373.5 268v35M374.5 262v46M375.5 238v93M376.5 239v89M377.5 258v50M378.5 251v62M379.5 251v61M380.5 241v80M381.5 253v54M382.5 244v72M383.5 257v45M384.5 249v59M385.5 235v86M386.5 247v61M387.5 264v26M388.5 246v60M389.5 248v55M390.5 237v77M391.5 239v72M392.5 245v58M393.5 243v62M394.5 234v78M395.5 250v45M396.5 239v67M397.5 247v50M398.5 217v109M399.5 228v86M400.5 225v91M401.5 235v70M402.5 253v34M403.5 234v71M404.5 247v45M405.5 232v73M406.5 249v39M407.5 238v60M408.5 238v60M409.5 247v41M410.5 251v32M411.5 240v53M412.5 240v53M413.5 235v62M414.5 227v78M415.5 248v34M416.5 243v43M417.5 219v91M418.5 228v72M419.5 212v103M420.5 238v51M421.5 232v62M422.5 238v49M423.5 240v45M424.5 246v32M425.5 225v73M426.5 232v58M427.5 227v67M428.5 232v57M429.5 238v44M430.5 215v89M431.5 237v45M432.5 227v64M433.5 224v69M434.5 230v56M435.5 222v72M436.5 223v69M437.5 224v67M438.5 234v46M439.5 223v68M440.5 210v93M441.5 230v52M442.5 230v52M443.5 235v42M444.5 219v74M445.5 223v65M446.5 229v52M447.5 235v40M448.5 214v81M449.5 229v51M450.5 233v43M451.5 204v100M452.5 225v58M453.5 210v87M454.5 219v68M455.5 216v74M456.5 224v58M457.5 202v102M458.5 216v74M459.5 214v77M460.5 220v64M461.5 224v56M462.5 227v50M463.5 224v55M464.5 199v105M465.5 205v92M466.5 220v62M467.5 214v73M468.5 233v35M469.5 238v25M470.5 213v74M471.5 203v94M472.5 208v84M473.5 231v38M474.5 221v57M475.5 205v88M476.5 224v50M477.5 211v75M478.5 227v43M479.5 219v59M480.5 220v56M481.5 214v68M482.5 215v66M483.5 210v75M484.5 198v99M485.5 230v34M486.5 220v54M487.5 211v71M488.5 204v85M489.5 203v86M490.5 209v74M491.5 215v62M492.5 209v73M493.5 209v73M494.5 220v50M495.5 226v38M496.5 222v45M497.5 216v57M498.5 187v114M499.5 222v44M500.5 214v60M501.5 227v34M502.5 215v57M503.5 210v67M504.5 210v66M505.5 205v76M506.5 199v87M507.5 202v81M508.5 200v85M509.5 210v64M510.5 216v51M511.5 220v44M512.5 198v87M513.5 213v57M514.5 219v45M515.5 202v77M516.5 199v83M517.5 212v57M518.5 221v38M519.5 204v72M520.5 197v85M521.5 210v59M522.5 196v86M523.5 201v76M524.5 197v83M525.5 210v57M526.5 212v52M527.5 205v66M528.5 209v58M529.5 207v61M530.5 186v103M531.5 180v114M532.5 190v93M533.5 205v63M534.5 211v50M535.5 198v76M536.5 200v71M537.5 201v69M538.5 200v70M539.5 199v72M540.5 195v79M541.5 208v53M542.5 193v82M543.5 193v82M544.5 208v51M545.5 214v39M546.5 195v76M547.5 205v56M548.5 194v77M549.5 203v59M550.5 213v38M551.5 209v45M552.5 192v79M553.5 206v50M554.5 197v68M555.5 203v55M556.5 192v77M557.5 210v40M558.5 195v70M559.5 181v97M560.5 191v77M561.5 178v103M562.5 206v46M563.5 215v28M564.5 181v95M565.5 196v64M566.5 206v44M567.5 179v99M568.5 187v82M569.5 196v63M570.5 186v82M571.5 205v45M572.5 209v36M573.5 200v53M574.5 183v87M575.5 211v31M576.5 201v50M577.5 195v61M578.5 189v73M579.5 190v69M580.5 184v81M581.5 174v101M582.5 209v30M583.5 178v91M584.5 188v70M585.5 185v76M586.5 199v47M587.5 190v65M588.5 192v60M589.5 183v77M590.5 180v82M591.5 192v58M592.5 196v48M593.5 193v54M594.5 197v45M595.5 188v61M596.5 186v65M597.5 188v60M598.5 192v51M599.5 188v59M600.5 189v55M601.5 186v60M602.5 176v78M603.5 183v64M604.5 189v50M605.5 172v82M606.5 181v64M607.5 192v40M608.5 170v83M609.5 170v82M610.5 191v39M611.5 192v35M612.5 179v60M613.5 188v41M614.5 191v32M615.5 182v48M616.5 162v86M617.5 173v61M618.5 182v40M619.5 165v72M620.5 178v42M621.5 172v51M622.5 137v118M623.5 143v100M624.5 148v85M625.5 142v90M626.5 137v88M627.5 124v98"/>
<path stroke-opacity="0.055" d="M359.5 293v77M360.5 282v75M361.5 281v54M362.5 264v75M363.5 244v107M364.5 248v94M365.5 244v98M366.5 255v74M367.5 247v88M368.5 251v78M369.5 248v82M370.5 259v58M371.5 260v54M372.5 241v91M373.5 241v89M374.5 263v43M375.5 252v64M376.5 254v59M377.5 254v58M378.5 249v67M379.5 238v87M380.5 242v78M381.5 239v82M382.5 258v43M383.5 250v58M384.5 245v67M385.5 253v50M386.5 248v59M387.5 255v44M388.5 255v43M389.5 251v49M390.5 247v56M391.5 247v56M392.5 254v40M393.5 246v55M394.5 248v50M395.5 239v67M396.5 239v67M397.5 233v77M398.5 233v77M399.5 240v62M400.5 246v49M401.5 239v63M402.5 243v53M403.5 222v95M404.5 224v90M405.5 238v62M406.5 239v58M407.5 240v56M408.5 230v75M409.5 213v108M410.5 247v40M411.5 233v67M412.5 234v65M413.5 227v78M414.5 231v69M415.5 239v52M416.5 237v55M417.5 239v51M418.5 223v82M419.5 242v43M420.5 224v79M421.5 228v70M422.5 230v65M423.5 223v78M424.5 236v52M425.5 231v61M426.5 236v50M427.5 212v98M428.5 230v61M429.5 238v44M430.5 231v57M431.5 222v75M432.5 245v28M433.5 231v55M434.5 230v57M435.5 233v50M436.5 230v55M437.5 213v88M438.5 230v54M439.5 232v50M440.5 232v50M441.5 226v61M442.5 228v56M443.5 234v43M444.5 239v33M445.5 225v61M446.5 221v68M447.5 230v50M448.5 235v39M449.5 214v81M450.5 230v48M451.5 219v70M452.5 221v65M453.5 213v82M454.5 215v77M455.5 235v37M456.5 222v62M457.5 220v65M458.5 226v53M459.5 220v64M460.5 220v65M461.5 235v34M462.5 210v84M463.5 222v59M464.5 223v57M465.5 222v58M466.5 206v90M467.5 215v72M468.5 214v73M469.5 209v83M470.5 223v54M471.5 235v30M472.5 220v59M473.5 213v73M474.5 234v30M475.5 222v55M476.5 212v74M477.5 201v96M478.5 221v55M479.5 219v59M480.5 229v38M481.5 223v49M482.5 192v112M483.5 208v79M484.5 230v35M485.5 219v57M486.5 227v39M487.5 207v79M488.5 194v105M489.5 200v92M490.5 216v60M491.5 202v88M492.5 219v53M493.5 207v76M494.5 233v24M495.5 207v75M496.5 213v64M497.5 225v39M498.5 232v25M499.5 205v78M500.5 206v75M501.5 199v89M502.5 212v62M503.5 214v58M504.5 207v72M505.5 215v56M506.5 203v80M507.5 197v91M508.5 206v72M509.5 199v86M510.5 211v62M511.5 208v67M512.5 206v70M513.5 212v58M514.5 195v92M515.5 194v94M516.5 196v89M517.5 201v78M518.5 205v71M519.5 204v72M520.5 214v52M521.5 198v83M522.5 192v94M523.5 222v34M524.5 221v35M525.5 216v45M526.5 195v86M527.5 221v34M528.5 206v63M529.5 220v35M530.5 221v33M531.5 213v48M532.5 196v82M533.5 213v47M534.5 198v77M535.5 211v50M536.5 198v75M537.5 178v115M538.5 183v104M539.5 209v52M540.5 209v51M541.5 211v47M542.5 200v68M543.5 192v84M544.5 186v95M545.5 218v31M546.5 182v102M547.5 216v33M548.5 218v29M549.5 183v99M550.5 210v44M551.5 202v59M552.5 197v69M553.5 203v56M554.5 181v99M555.5 208v45M556.5 214v33M557.5 195v70M558.5 208v44M559.5 203v53M560.5 209v41M561.5 219v21M562.5 201v56M563.5 199v60M564.5 194v70M565.5 197v63M566.5 193v71M567.5 198v60M568.5 202v52M569.5 204v47M570.5 175v104M571.5 196v63M572.5 177v100M573.5 182v90M574.5 209v34M575.5 185v83M576.5 194v63M577.5 187v77M578.5 194v62M579.5 196v57M580.5 202v45M581.5 206v36M582.5 184v79M583.5 193v61M584.5 194v59M585.5 192v62M586.5 185v75M587.5 178v89M588.5 192v60M589.5 179v84M590.5 204v34M591.5 190v61M592.5 193v54M593.5 189v61M594.5 200v39M595.5 198v41M596.5 192v53M597.5 182v72M598.5 192v51M599.5 186v62M600.5 185v63M601.5 196v39M602.5 183v64M603.5 195v39M604.5 175v78M605.5 187v53M606.5 188v49M607.5 171v83M608.5 182v59M609.5 168v86M610.5 178v65M611.5 178v63M612.5 183v51M613.5 184v49M614.5 180v55M615.5 181v50M616.5 179v52M617.5 172v63M618.5 179v46M619.5 167v68M620.5 178v43M621.5 148v99M622.5 139v113M623.5 160v66M624.5 145v91M625.5 144v85M626.5 154v53M627.5 147v50"/>
<path stroke-opacity="0.055" d="M359.5 291v79M360.5 276v85M361.5 265v84M362.5 264v74M363.5 278v38M364.5 253v84M365.5 265v56M366.5 255v74M367.5 270v42M368.5 244v91M369.5 265v48M370.5 253v70M371.5 246v82M372.5 262v49M373.5 251v68M374.5 256v57M375.5 258v52M376.5 238v90M377.5 234v97M378.5 254v56M379.5 267v29M380.5 263v36M381.5 259v42M382.5 251v57M383.5 248v62M384.5 242v73M385.5 252v52M386.5 242v71M387.5 239v75M388.5 231v90M389.5 253v45M390.5 254v43M391.5 233v84M392.5 233v82M393.5 247v54M394.5 254v39M395.5 245v55M396.5 248v48M397.5 254v36M398.5 238v67M399.5 232v78M400.5 222v97M401.5 244v52M402.5 249v41M403.5 246v47M404.5 239v61M405.5 253v31M406.5 227v82M407.5 229v78M408.5 230v75M409.5 219v97M410.5 246v42M411.5 236v62M412.5 240v52M413.5 229v74M414.5 237v57M415.5 252v26M416.5 222v86M417.5 232v65M418.5 225v79M419.5 247v33M420.5 228v70M421.5 227v71M422.5 230v65M423.5 241v42M424.5 237v50M425.5 220v83M426.5 220v82M427.5 215v91M428.5 226v69M429.5 233v54M430.5 243v34M431.5 224v70M432.5 234v50M433.5 211v96M434.5 225v67M435.5 237v42M436.5 223v69M437.5 217v81M438.5 233v49M439.5 231v51M440.5 240v33M441.5 198v117M442.5 220v72M443.5 226v60M444.5 222v67M445.5 236v39M446.5 232v46M447.5 227v56M448.5 231v47M449.5 229v51M450.5 209v90M451.5 200v108M452.5 214v80M453.5 211v85M454.5 227v53M455.5 232v43M456.5 232v42M457.5 218v69M458.5 230v45M459.5 241v23M460.5 223v58M461.5 210v84M462.5 213v77M463.5 222v59M464.5 234v35M465.5 228v46M466.5 215v71M467.5 217v67M468.5 216v69M469.5 214v72M470.5 213v74M471.5 226v48M472.5 215v69M473.5 200v99M474.5 202v95M475.5 191v116M476.5 224v50M477.5 220v57M478.5 213v71M479.5 217v63M480.5 214v68M481.5 217v61M482.5 220v56M483.5 226v43M484.5 207v81M485.5 201v92M486.5 207v80M487.5 213v68M488.5 211v71M489.5 224v44M490.5 227v38M491.5 224v43M492.5 220v51M493.5 206v78M494.5 209v73M495.5 221v48M496.5 204v82M497.5 220v49M498.5 220v48M499.5 208v73M500.5 211v66M501.5 177v133M502.5 222v43M503.5 206v75M504.5 206v75M505.5 188v110M506.5 200v85M507.5 220v45M508.5 214v57M509.5 199v86M510.5 208v68M511.5 220v43M512.5 219v45M513.5 198v87M514.5 204v74M515.5 198v85M516.5 209v63M517.5 218v45M518.5 216v48M519.5 199v82M520.5 197v85M521.5 200v79M522.5 211v57M523.5 208v62M524.5 210v58M525.5 215v47M526.5 183v110M527.5 226v24M528.5 225v26M529.5 214v47M530.5 222v31M531.5 204v66M532.5 199v75M533.5 209v55M534.5 216v41M535.5 218v36M536.5 200v71M537.5 210v51M538.5 201v68M539.5 206v58M540.5 194v81M541.5 190v89M542.5 214v40M543.5 214v40M544.5 203v61M545.5 197v73M546.5 184v98M547.5 189v87M548.5 195v75M549.5 215v35M550.5 206v52M551.5 201v61M552.5 206v51M553.5 201v60M554.5 195v71M555.5 197v67M556.5 210v41M557.5 182v97M558.5 197v66M559.5 198v64M560.5 205v49M561.5 203v53M562.5 210v38M563.5 212v34M564.5 195v67M565.5 204v48M566.5 205v46M567.5 209v38M568.5 188v79M569.5 209v38M570.5 196v63M571.5 182v90M572.5 191v71M573.5 192v69M574.5 195v63M575.5 209v35M576.5 196v60M577.5 199v53M578.5 196v58M579.5 187v75M580.5 208v33M581.5 192v65M582.5 204v40M583.5 183v81M584.5 187v72M585.5 194v57M586.5 196v53M587.5 183v78M588.5 174v95M589.5 178v87M590.5 188v66M591.5 193v55M592.5 200v41M593.5 193v54M594.5 196v46M595.5 184v70M596.5 198v41M597.5 189v58M598.5 176v83M599.5 184v66M600.5 188v56M601.5 183v66M602.5 175v80M603.5 194v41M604.5 178v71M605.5 185v56M606.5 180v66M607.5 179v66M608.5 177v69M609.5 165v92M610.5 186v49M611.5 186v48M612.5 181v56M613.5 185v46M614.5 165v84M615.5 184v44M616.5 174v62M617.5 178v51M618.5 169v66M619.5 169v64M620.5 167v64M621.5 148v98M622.5 144v102M623.5 148v90M624.5 167v46M625.5 160v51M626.5 163v34M627.5 127v88"/>
<path stroke-opacity="0.055" d="M359.5 305v49M360.5 273v89M361.5 266v81M362.5 277v47M363.5 283v28M364.5 274v41M365.5 240v105M366.5 249v85M367.5 239v103M368.5 256v67M369.5 256v66M370.5 255v65M371.5 257v60M372.5 257v58M373.5 272v27M374.5 253v64M375.5 244v80M376.5 259v49M377.5 241v83M378.5 248v68M379.5 252v59M380.5 237v88M381.5 266v29M382.5 252v55M383.5 254v50M384.5 259v39M385.5 254v48M386.5 237v81M387.5 232v90M388.5 247v58M389.5 231v89M390.5 254v42M391.5 239v71M392.5 222v104M393.5 244v60M394.5 237v72M395.5 238v69M396.5 246v53M397.5 259v26M398.5 231v81M399.5 236v70M400.5 244v53M401.5 227v86M402.5 231v77M403.5 239v60M404.5 235v68M405.5 243v51M406.5 233v71M407.5 244v48M408.5 245v45M409.5 237v60M410.5 230v74M411.5 230v73M412.5 231v70M413.5 227v77M414.5 244v43M415.5 231v68M416.5 237v56M417.5 224v81M418.5 226v76M419.5 233v61M420.5 237v52M421.5 237v52M422.5 225v75M423.5 235v54M424.5 213v97M425.5 238v47M426.5 236v50M427.5 224v74M428.5 227v66M429.5 225v70M430.5 236v47M431.5 223v72M432.5 230v58M433.5 230v58M434.5 219v78M435.5 231v54M436.5 222v71M437.5 232v50M438.5 235v44M439.5 219v76M440.5 228v57M441.5 222v68M442.5 213v86M443.5 218v76M444.5 218v75M445.5 219v73M446.5 221v69M447.5 226v57M448.5 211v87M449.5 205v98M450.5 220v69M451.5 238v32M452.5 238v31M453.5 217v74M454.5 233v41M455.5 217v73M456.5 233v40M457.5 203v99M458.5 228v50M459.5 233v39M460.5 210v84M461.5 214v76M462.5 237v30M463.5 200v103M464.5 232v39M465.5 228v46M466.5 229v43M467.5 229v44M468.5 219v63M469.5 225v51M470.5 214v72M471.5 218v64M472.5 231v38M473.5 211v77M474.5 214v71M475.5 211v76M476.5 211v76M477.5 203v92M478.5 223v51M479.5 199v98M480.5 215v66M481.5 217v62M482.5 231v33M483.5 199v97M484.5 229v36M485.5 226v42M486.5 206v82M487.5 219v55M488.5 209v75M489.5 207v78M490.5 218v56M491.5 206v80M492.5 212v67M493.5 224v43M494.5 217v56M495.5 218v54M496.5 217v56M497.5 206v77M498.5 211v67M499.5 214v60M500.5 209v69M501.5 213v61M502.5 222v43M503.5 216v54M504.5 217v52M505.5 230v25M506.5 193v99M507.5 190v105M508.5 211v62M509.5 198v88M510.5 200v84M511.5 226v31M512.5 205v73M513.5 203v76M514.5 210v62M515.5 198v86M516.5 211v59M517.5 209v62M518.5 222v36M519.5 210v59M520.5 210v59M521.5 218v43M522.5 221v36M523.5 195v88M524.5 199v79M525.5 210v57M526.5 215v47M527.5 213v50M528.5 199v77M529.5 202v71M530.5 203v69M531.5 218v38M532.5 210v54M533.5 202v69M534.5 200v73M535.5 206v60M536.5 202v67M537.5 217v37M538.5 216v38M539.5 217v35M540.5 202v65M541.5 196v76M542.5 221v27M543.5 198v72M544.5 208v51M545.5 205v57M546.5 204v58M547.5 190v85M548.5 212v41M549.5 190v84M550.5 199v66M551.5 205v54M552.5 206v51M553.5 211v40M554.5 200v61M555.5 211v39M556.5 197v66M557.5 193v74M558.5 202v56M559.5 212v35M560.5 202v54M561.5 196v66M562.5 206v46M563.5 200v57M564.5 197v63M565.5 188v81M566.5 190v77M567.5 174v108M568.5 190v76M569.5 199v58M570.5 184v87M571.5 203v48M572.5 209v35M573.5 188v77M574.5 193v67M575.5 179v94M576.5 193v66M577.5 209v33M578.5 202v46M579.5 205v39M580.5 192v65M581.5 190v68M582.5 200v48M583.5 200v47M584.5 207v33M585.5 173v100M586.5 187v71M587.5 173v98M588.5 191v61M589.5 181v81M590.5 193v56M591.5 181v79M592.5 196v49M593.5 201v38M594.5 196v47M595.5 180v77M596.5 186v64M597.5 184v68M598.5 189v57M599.5 189v56M600.5 178v77M601.5 178v76M602.5 166v98M603.5 190v49M604.5 197v33M605.5 183v60M606.5 172v81M607.5 175v74M608.5 173v77M609.5 188v46M610.5 191v38M611.5 190v39M612.5 155v108M613.5 180v56M614.5 167v79M615.5 171v70M616.5 171v68M617.5 174v58M618.5 158v88M619.5 160v81M620.5 158v82M621.5 145v104M622.5 166v58M623.5 147v91M624.5 143v93M625.5 142v87M626.5 138v82M627.5 129v83"/>
<path stroke-opacity="0.055" d="M359.5 287v82M360.5 267v98M361.5 265v80M362.5 258v84M363.5 246v101M364.5 253v83M365.5 267v52M366.5 243v98M367.5 257v67M368.5 248v83M369.5 257v63M370.5 256v64M371.5 246v82M372.5 266v40M373.5 249v73M374.5 260v49M375.5 268v32M376.5 251v65M377.5 252v62M378.5 236v92M379.5 266v31M380.5 260v41M381.5 246v68M382.5 240v80M383.5 251v56M384.5 244v69M385.5 243v70M386.5 253v49M387.5 256v41M388.5 245v62M389.5 231v89M390.5 255v40M391.5 226v97M392.5 232v84M393.5 255v37M394.5 230v86M395.5 242v61M396.5 236v73M397.5 238v68M398.5 247v49M399.5 252v38M400.5 229v83M401.5 248v44M402.5 235v69M403.5 234v70M404.5 239v60M405.5 242v54M406.5 259v19M407.5 226v83M408.5 247v41M409.5 247v40M410.5 247v39M411.5 230v73M412.5 229v74M413.5 223v86M414.5 240v51M415.5 234v62M416.5 236v58M417.5 230v69M418.5 237v54M419.5 219v90M420.5 230v67M421.5 216v93M422.5 245v35M423.5 228v68M424.5 234v55M425.5 235v52M426.5 243v36M427.5 239v43M428.5 221v78M429.5 232v56M430.5 221v77M431.5 226v67M432.5 220v78M433.5 228v61M434.5 233v51M435.5 237v42M436.5 242v32M437.5 211v93M438.5 230v54M439.5 223v67M440.5 236v41M441.5 223v66M442.5 226v60M443.5 215v82M444.5 235v41M445.5 231v48M446.5 205v100M447.5 214v82M448.5 236v38M449.5 238v33M450.5 228v53M451.5 220v68M452.5 207v93M453.5 230v47M454.5 234v39M455.5 216v75M456.5 229v48M457.5 207v91M458.5 215v75M459.5 226v53M460.5 212v80M461.5 232v40M462.5 215v73M463.5 204v95M464.5 213v76M465.5 216v70M466.5 220v62M467.5 209v83M468.5 228v45M469.5 235v30M470.5 216v68M471.5 231v37M472.5 206v88M473.5 216v67M474.5 207v84M475.5 208v83M476.5 226v46M477.5 228v41M478.5 216v65M479.5 212v72M480.5 221v55M481.5 227v41M482.5 233v29M483.5 219v57M484.5 195v104M485.5 205v84M486.5 227v40M487.5 223v47M488.5 218v57M489.5 212v68M490.5 206v80M491.5 200v91M492.5 210v71M493.5 207v77M494.5 204v82M495.5 197v96M496.5 216v58M497.5 207v75M498.5 216v56M499.5 222v44M500.5 191v106M501.5 209v69M502.5 206v74M503.5 189v108M504.5 201v84M505.5 209v67M506.5 211v63M507.5 192v101M508.5 212v61M509.5 205v73M510.5 210v63M511.5 207v69M512.5 192v99M513.5 219v44M514.5 199v84M515.5 210v61M516.5 225v31M517.5 200v81M518.5 187v107M519.5 223v34M520.5 216v48M521.5 184v111M522.5 213v52M523.5 213v52M524.5 193v91M525.5 207v63M526.5 216v45M527.5 209v58M528.5 210v55M529.5 203v69M530.5 208v58M531.5 199v76M532.5 202v70M533.5 186v101M534.5 224v24M535.5 210v52M536.5 219v33M537.5 205v61M538.5 199v72M539.5 210v50M540.5 210v50M541.5 206v57M542.5 209v50M543.5 200v68M544.5 201v65M545.5 191v84M546.5 201v64M547.5 215v35M548.5 200v65M549.5 196v72M550.5 194v75M551.5 218v27M552.5 196v70M553.5 204v54M554.5 205v51M555.5 177v107M556.5 196v68M557.5 183v94M558.5 182v96M559.5 190v79M560.5 205v49M561.5 202v54M562.5 206v46M563.5 201v56M564.5 178v101M565.5 207v43M566.5 201v55M567.5 185v86M568.5 198v59M569.5 193v70M570.5 199v56M571.5 206v42M572.5 190v74M573.5 194v65M574.5 175v102M575.5 210v32M576.5 202v47M577.5 192v67M578.5 188v74M579.5 195v60M580.5 191v67M581.5 207v34M582.5 199v50M583.5 195v57M584.5 192v62M585.5 181v83M586.5 198v49M587.5 206v33M588.5 177v89M589.5 207v29M590.5 185v72M591.5 204v33M592.5 187v66M593.5 195v49M594.5 189v61M595.5 172v94M596.5 194v48M597.5 171v93M598.5 194v47M599.5 197v40M600.5 187v58M601.5 196v40M602.5 185v60M603.5 190v48M604.5 187v53M605.5 185v56M606.5 181v62M607.5 187v50M608.5 193v36M609.5 176v70M610.5 183v54M611.5 169v81M612.5 188v41M613.5 174v67M614.5 171v72M615.5 164v83M616.5 175v59M617.5 171v64M618.5 183v38M619.5 174v53M620.5 178v41M621.5 172v49M622.5 146v97M623.5 173v38M624.5 160v59M625.5 158v54M626.5 148v61M627.5 148v43"/>
<path stroke-opacity="0.055" d="M359.5 297v60M360.5 286v58M361.5 271v67M362.5 277v45M363.5 270v52M364.5 268v53M365.5 256v73M366.5 244v95M367.5 250v81M368.5 273v33M369.5 268v41M370.5 248v79M371.5 243v87M372.5 245v82M373.5 246v79M374.5 247v75M375.5 242v84M376.5 238v90M377.5 246v73M378.5 263v38M379.5 258v46M380.5 249v64M381.5 249v62M382.5 250v59M383.5 244v70M384.5 254v48M385.5 235v86M386.5 249v56M387.5 250v54M388.5 250v53M389.5 236v79M390.5 237v76M391.5 242v65M392.5 235v78M393.5 243v61M394.5 243v60M395.5 249v47M396.5 251v42M397.5 246v52M398.5 243v56M399.5 241v60M400.5 246v49M401.5 244v52M402.5 220v99M403.5 244v51M404.5 247v44M405.5 239v59M406.5 242v53M407.5 233v70M408.5 223v89M409.5 238v58M410.5 238v58M411.5 245v43M412.5 227v79M413.5 242v48M414.5 237v57M415.5 245v40M416.5 231v68M417.5 211v106M418.5 224v80M419.5 238v51M420.5 234v58M421.5 227v72M422.5 234v57M423.5 220v84M424.5 230v64M425.5 232v59M426.5 232v58M427.5 235v51M428.5 229v63M429.5 224v72M430.5 219v81M431.5 231v56M432.5 226v66M433.5 214v89M434.5 217v82M435.5 246v24M436.5 222v71M437.5 238v39M438.5 230v55M439.5 216v82M440.5 210v93M441.5 216v80M442.5 232v48M443.5 228v56M444.5 236v39M445.5 222v67M446.5 211v88M447.5 217v76M448.5 217v76M449.5 215v79M450.5 212v84M451.5 226v56M452.5 215v77M453.5 219v69M454.5 231v45M455.5 224v59M456.5 224v58M457.5 235v36M458.5 224v57M459.5 222v60M460.5 207v91M461.5 214v76M462.5 222v59M463.5 231v41M464.5 208v87M465.5 230v42M466.5 210v81M467.5 213v75M468.5 238v25M469.5 227v46M470.5 218v65M471.5 220v60M472.5 211v77M473.5 233v33M474.5 212v75M475.5 206v86M476.5 217v64M477.5 214v69M478.5 229v39M479.5 225v47M480.5 228v40M481.5 207v82M482.5 206v83M483.5 207v81M484.5 225v44M485.5 216v62M486.5 211v72M487.5 206v81M488.5 222v49M489.5 205v82M490.5 212v68M491.5 214v64M492.5 210v71M493.5 198v94M494.5 214v62M495.5 226v38M496.5 210v70M497.5 204v81M498.5 213v62M499.5 215v58M500.5 216v56M501.5 217v53M502.5 227v32M503.5 228v31M504.5 205v76M505.5 217v52M506.5 197v91M507.5 215v54M508.5 212v60M509.5 206v72M510.5 198v88M511.5 198v88M512.5 184v115M513.5 215v52M514.5 200v82M515.5 213v56M516.5 206v69M517.5 223v35M518.5 192v96M519.5 210v60M520.5 199v82M521.5 206v66M522.5 214v51M523.5 203v72M524.5 187v103M525.5 206v65M526.5 223v30M527.5 213v49M528.5 199v77M529.5 206v63M530.5 205v64M531.5 195v84M532.5 197v80M533.5 213v47M534.5 205v63M535.5 220v32M536.5 208v55M537.5 183v104M538.5 178v114M539.5 210v50M540.5 201v67M541.5 208v52M542.5 187v94M543.5 202v63M544.5 183v101M545.5 220v26M546.5 207v52M547.5 182v101M548.5 204v57M549.5 211v43M550.5 214v36M551.5 192v79M552.5 185v93M553.5 206v50M554.5 196v70M555.5 207v47M556.5 205v51M557.5 198v64M558.5 208v44M559.5 178v103M560.5 193v72M561.5 195v68M562.5 186v86M563.5 189v79M564.5 206v45M565.5 207v42M566.5 184v89M567.5 201v54M568.5 182v92M569.5 193v69M570.5 195v65M571.5 193v68M572.5 191v71M573.5 183v87M574.5 199v54M575.5 205v42M576.5 185v81M577.5 202v47M578.5 206v38M579.5 193v63M580.5 184v81M581.5 197v54M582.5 191v66M583.5 209v29M584.5 207v32M585.5 196v54M586.5 188v69M587.5 191v62M588.5 196v51M589.5 182v78M590.5 192v57M591.5 203v35M592.5 198v44M593.5 195v49M594.5 196v47M595.5 200v37M596.5 188v61M597.5 182v71M598.5 196v43M599.5 181v72M600.5 186v60M601.5 175v81M602.5 176v77M603.5 166v97M604.5 172v84M605.5 168v90M606.5 190v45M607.5 171v82M608.5 167v88M609.5 181v59M610.5 192v36M611.5 175v69M612.5 182v53M613.5 164v88M614.5 164v85M615.5 179v53M616.5 172v65M617.5 182v42M618.5 175v54M619.5 171v59M620.5 171v55M621.5 157v79M622.5 162v65M623.5 169v46M624.5 160v58M625.5 141v87M626.5 149v58M627.5 126v85"/>
<path stroke-opacity="0.055" d="M359.5 296v60M360.5 292v45M361.5 263v82M362.5 259v81M363.5 267v58M364.5 262v65M365.5 263v59M366.5 272v39M367.5 263v55M368.5 252v75M369.5 266v45M370.5 251v73M371.5 246v82M372.5 269v34M373.5 257v57M374.5 256v57M375.5 253v62M376.5 258v51M377.5 266v33M378.5 260v44M379.5 236v90M380.5 261v39M381.5 258v44M382.5 260v39M383.5 258v42M384.5 255v47M385.5 242v72M386.5 238v79M387.5 243v67M388.5 246v61M389.5 243v65M390.5 252v46M391.5 246v57M392.5 237v74M393.5 238v71M394.5 240v66M395.5 218v109M396.5 250v44M397.5 230v84M398.5 245v53M399.5 228v85M400.5 234v73M401.5 218v104M402.5 232v75M403.5 228v82M404.5 234v70M405.5 241v56M406.5 222v93M407.5 210v116M408.5 241v53M409.5 237v60M410.5 226v81M411.5 252v29M412.5 232v68M413.5 225v82M414.5 248v34M415.5 218v94M416.5 238v54M417.5 238v52M418.5 231v66M419.5 231v66M420.5 225v76M421.5 234v57M422.5 227v71M423.5 239v46M424.5 238v48M425.5 232v58M426.5 234v53M427.5 217v87M428.5 217v86M429.5 235v49M430.5 237v45M431.5 236v46M432.5 236v45M433.5 231v55M434.5 222v73M435.5 197v122M436.5 222v71M437.5 214v86M438.5 224v66M439.5 243v28M440.5 220v73M441.5 233v47M442.5 229v54M443.5 241v30M444.5 213v85M445.5 223v65M446.5 228v54M447.5 217v76M448.5 213v83M449.5 222v65M450.5 223v63M451.5 227v54M452.5 226v56M453.5 211v85M454.5 212v83M455.5 234v38M456.5 233v40M457.5 223v59M458.5 221v63M459.5 217v71M460.5 213v78M461.5 193v118M462.5 220v63M463.5 226v51M464.5 212v78M465.5 209v84M466.5 218v65M467.5 204v94M468.5 220v61M469.5 236v28M470.5 207v87M471.5 204v91M472.5 226v47M473.5 219v61M474.5 216v66M475.5 212v74M476.5 224v50M477.5 236v25M478.5 229v39M479.5 217v62M480.5 220v56M481.5 204v87M482.5 206v83M483.5 209v77M484.5 207v80M485.5 225v44M486.5 198v97M487.5 211v71M488.5 210v72M489.5 210v73M490.5 225v42M491.5 219v53M492.5 218v55M493.5 226v39M494.5 200v90M495.5 198v93M496.5 216v58M497.5 205v78M498.5 189v110M499.5 207v74M500.5 214v59M501.5 229v29M502.5 217v52M503.5 206v75M504.5 196v94M505.5 203v80M506.5 210v65M507.5 216v52M508.5 219v47M509.5 214v56M510.5 210v63M511.5 203v77M512.5 225v33M513.5 207v68M514.5 215v52M515.5 215v51M516.5 206v68M517.5 216v49M518.5 211v58M519.5 210v60M520.5 220v39M521.5 212v55M522.5 190v98M523.5 195v88M524.5 200v77M525.5 195v87M526.5 210v57M527.5 210v56M528.5 209v58M529.5 180v115M530.5 213v48M531.5 210v53M532.5 209v56M533.5 208v56M534.5 218v36M535.5 197v77M536.5 203v65M537.5 209v52M538.5 215v40M539.5 183v104M540.5 195v79M541.5 202v65M542.5 204v60M543.5 200v68M544.5 207v52M545.5 191v85M546.5 213v40M547.5 198v69M548.5 203v59M549.5 207v50M550.5 186v92M551.5 192v79M552.5 215v33M553.5 193v76M554.5 208v45M555.5 190v81M556.5 193v74M557.5 198v64M558.5 200v59M559.5 172v115M560.5 193v73M561.5 186v86M562.5 191v76M563.5 197v64M564.5 180v97M565.5 192v73M566.5 198v60M567.5 215v26M568.5 204v47M569.5 193v69M570.5 193v68M571.5 200v54M572.5 199v56M573.5 185v83M574.5 195v63M575.5 178v96M576.5 197v57M577.5 178v94M578.5 202v46M579.5 201v48M580.5 195v58M581.5 191v67M582.5 205v37M583.5 186v75M584.5 195v56M585.5 187v71M586.5 187v71M587.5 191v62M588.5 201v41M589.5 194v54M590.5 186v70M591.5 189v63M592.5 199v42M593.5 188v63M594.5 177v85M595.5 193v51M596.5 184v68M597.5 182v72M598.5 168v99M599.5 193v48M600.5 190v52M601.5 172v87M602.5 162v105M603.5 162v104M604.5 174v79M605.5 184v58M606.5 165v95M607.5 162v100M608.5 184v55M609.5 184v53M610.5 185v50M611.5 186v46M612.5 153v111M613.5 151v113M614.5 186v42M615.5 165v81M616.5 178v53M617.5 176v54M618.5 183v37M619.5 181v38M620.5 151v94M621.5 162v69M622.5 180v29M623.5 143v98M624.5 157v63M625.5 145v78M626.5 159v36M627.5 129v77"/>
<path stroke-opacity="0.055" d="M370.5 270v35M394.5 236v74M419.5 221v85M444.5 233v45M468.5 234v33M493.5 223v45M518.5 218v44M542.5 203v62M567.5 197v62M592.5 173v94M616.5 177v54"/>
<path stroke-opacity="0.22" d="M358.5 323v29M359.5 309v55M360.5 283v84M361.5 263v100M362.5 263v79M363.5 257v84M364.5 264v64M365.5 265v58M366.5 270v44M367.5 249v85M368.5 254v72M369.5 258v62M370.5 252v73M371.5 263v49M372.5 253v67M373.5 256v60M374.5 257v56M375.5 250v69M376.5 270v28M377.5 259v48M378.5 264v37M379.5 263v38M380.5 249v64M381.5 262v37M382.5 261v38M383.5 251v57M384.5 249v60M385.5 260v37M386.5 253v50M387.5 252v50M388.5 247v59M389.5 248v55M390.5 247v56M391.5 261v28M392.5 260v29M393.5 248v52M394.5 248v51M395.5 250v45M396.5 248v48M397.5 247v50M398.5 255v33M399.5 247v49M400.5 250v41M401.5 254v33M402.5 260v19M403.5 247v45M404.5 247v45M405.5 250v38M406.5 255v27M408.5 250v36M409.5 247v41M410.5 251v32M411.5 252v29M414.5 247v37M415.5 248v35M416.5 251v28M419.5 250v28M426.5 246v31M545.5 220v26M551.5 218v27M561.5 219v21M563.5 215v28M566.5 211v35M567.5 215v26M568.5 210v36M569.5 209v38M572.5 209v36M574.5 213v27M575.5 209v35M576.5 205v41M577.5 209v33M578.5 209v33M579.5 205v40M580.5 208v33M581.5 202v44M582.5 209v30M583.5 204v40M584.5 207v33M586.5 206v33M587.5 202v41M588.5 201v41M589.5 201v41M590.5 201v40M591.5 196v50M592.5 196v48M593.5 194v52M594.5 203v33M595.5 205v28M596.5 194v49M597.5 199v39M598.5 193v49M599.5 198v39M600.5 201v32M601.5 195v43M602.5 192v47M603.5 198v33M604.5 188v52M605.5 189v49M606.5 181v64M607.5 179v67M608.5 185v54M609.5 194v34M610.5 192v37M611.5 186v48M612.5 181v56M613.5 187v43M614.5 172v71M615.5 167v79M616.5 191v28M617.5 180v48M618.5 169v67M619.5 172v59M620.5 178v44M621.5 174v49M622.5 172v48M623.5 164v60M624.5 165v53M625.5 171v35M626.5 162v43M627.5 136v80M628.5 151v31"/>
<path stroke-opacity="0.22" d="M359.5 301v69M360.5 278v92M361.5 276v72M362.5 260v85M363.5 271v55M364.5 275v42M365.5 272v44M366.5 255v75M367.5 254v74M368.5 265v51M369.5 248v82M370.5 257v63M371.5 260v55M372.5 261v51M373.5 264v44M374.5 266v38M375.5 247v75M376.5 246v75M377.5 262v42M378.5 261v43M379.5 259v46M380.5 261v41M381.5 252v57M382.5 256v48M383.5 253v53M384.5 255v48M385.5 253v50M386.5 251v53M387.5 264v26M388.5 256v41M389.5 251v49M390.5 254v43M391.5 247v56M392.5 252v45M393.5 246v55M394.5 248v51M395.5 249v47M396.5 251v42M397.5 254v36M398.5 254v35M399.5 249v44M400.5 246v49M401.5 248v44M402.5 253v34M403.5 246v47M404.5 247v44M405.5 253v31M406.5 249v39M408.5 247v41M409.5 247v40M410.5 247v40M414.5 248v34M415.5 248v34M419.5 247v33M426.5 246v30M563.5 212v34M566.5 210v37M572.5 209v35M574.5 209v34M575.5 211v31M578.5 206v38M579.5 203v44M581.5 206v36M582.5 204v40M583.5 207v33M584.5 207v32M586.5 199v47M587.5 198v49M589.5 207v29M590.5 204v34M591.5 195v51M592.5 200v41M593.5 193v54M594.5 195v49M595.5 198v41M596.5 197v44M597.5 195v46M598.5 191v54M599.5 191v52M600.5 189v56M601.5 187v58M602.5 191v49M603.5 183v64M604.5 190v49M605.5 181v65M606.5 188v50M607.5 182v61M608.5 181v61M609.5 186v50M610.5 181v59M611.5 192v35M612.5 192v34M613.5 172v73M614.5 179v57M615.5 179v55M616.5 184v42M617.5 183v42M618.5 168v70M619.5 165v72M620.5 176v48M621.5 175v46M622.5 167v58M623.5 153v82M624.5 151v81M625.5 141v94M626.5 147v72M627.5 130v91"/>
<path stroke-opacity="0.22" d="M359.5 299v71M360.5 296v53M361.5 267v88M362.5 284v36M363.5 259v79M364.5 261v69M365.5 251v86M366.5 248v88M367.5 247v88M368.5 257v66M369.5 265v48M370.5 247v82M371.5 253v69M372.5 267v38M373.5 253v66M374.5 261v48M375.5 252v64M376.5 254v60M377.5 257v52M378.5 263v39M379.5 254v55M380.5 248v67M381.5 260v41M382.5 249v61M383.5 253v52M384.5 252v54M385.5 253v50M386.5 247v61M387.5 255v44M388.5 246v60M389.5 253v45M390.5 254v42M391.5 246v57M392.5 254v40M393.5 247v54M394.5 249v49M396.5 250v44M397.5 259v26M398.5 256v31M399.5 252v38M400.5 246v49M402.5 249v41M403.5 246v47M406.5 259v19M410.5 247v39M415.5 252v26M575.5 209v35M579.5 205v39M581.5 207v34M582.5 205v37M583.5 209v29M587.5 206v33M590.5 204v34M591.5 200v41M592.5 196v49M593.5 201v38M594.5 197v45M595.5 200v37M596.5 192v53M597.5 200v36M598.5 192v51M599.5 188v59M600.5 187v59M601.5 195v42M602.5 190v51M603.5 195v39M604.5 187v54M605.5 187v53M606.5 187v51M607.5 179v67M608.5 182v59M609.5 182v58M610.5 174v72M611.5 178v63M612.5 191v36M613.5 176v64M614.5 169v77M615.5 182v48M616.5 165v80M617.5 170v68M618.5 159v87M619.5 174v54M620.5 176v47M621.5 179v38M622.5 162v67M623.5 177v33M624.5 172v39M625.5 158v59M626.5 134v96M627.5 125v100"/>
<path stroke-opacity="0.22" d="M359.5 297v73M360.5 292v59M361.5 281v58M362.5 282v39M363.5 251v94M364.5 267v56M365.5 276v35M366.5 257v70M367.5 270v42M368.5 252v77M369.5 256v66M370.5 258v61M371.5 247v81M372.5 262v49M373.5 256v59M374.5 262v46M375.5 258v52M376.5 254v59M377.5 258v50M378.5 251v62M379.5 251v61M380.5 249v65M381.5 258v45M382.5 258v43M383.5 257v45M384.5 249v59M385.5 252v52M386.5 248v59M387.5 256v41M388.5 255v43M390.5 255v40M393.5 255v37M394.5 248v50M397.5 246v52M398.5 247v49M575.5 210v32M591.5 198v46M592.5 198v44M593.5 195v49M594.5 200v39M595.5 193v51M596.5 192v53M597.5 207v22M598.5 192v51M599.5 189v56M600.5 189v55M601.5 191v50M602.5 185v60M603.5 194v41M604.5 184v60M605.5 185v56M606.5 181v64M607.5 192v40M608.5 177v69M609.5 188v46M610.5 191v39M611.5 186v48M612.5 179v60M613.5 188v41M614.5 179v57M615.5 181v50M616.5 179v52M617.5 185v37M618.5 178v49M619.5 179v44M620.5 178v42M621.5 172v51M622.5 144v102M623.5 155v77M624.5 153v75M625.5 148v79M626.5 160v43M627.5 123v102"/>
<path stroke-opacity="0.22" d="M359.5 295v75M360.5 295v51M361.5 284v50M362.5 264v75M363.5 269v57M364.5 251v88M365.5 257v73M366.5 255v74M367.5 257v67M368.5 255v70M369.5 257v63M370.5 247v82M371.5 258v59M372.5 257v58M373.5 268v35M374.5 263v43M375.5 268v32M376.5 259v49M377.5 254v58M378.5 249v67M379.5 267v29M380.5 263v36M381.5 253v54M382.5 251v57M383.5 250v58M384.5 259v39M385.5 254v48M386.5 253v49M387.5 250v54M388.5 247v58M390.5 252v46M394.5 254v39M591.5 204v33M592.5 199v42M593.5 195v49M594.5 196v46M596.5 198v41M598.5 189v57M599.5 197v40M600.5 188v56M601.5 186v60M603.5 190v49M604.5 189v50M605.5 183v60M606.5 188v49M607.5 179v66M608.5 193v36M609.5 176v70M610.5 178v65M611.5 190v39M612.5 183v51M613.5 184v49M614.5 191v32M615.5 184v44M616.5 174v62M617.5 173v61M618.5 182v40M619.5 165v72M620.5 178v43M621.5 148v98M622.5 166v58M623.5 143v100M624.5 148v85M625.5 142v90M626.5 137v88M627.5 124v98"/>
<path stroke-opacity="0.22" d="M359.5 293v77M360.5 282v75M361.5 281v54M362.5 264v74M363.5 278v38M364.5 248v94M365.5 265v56M366.5 255v74M367.5 250v81M368.5 251v78M369.5 268v41M370.5 259v58M371.5 260v54M372.5 266v40M373.5 251v68M374.5 256v57M375.5 253v62M376.5 251v65M377.5 252v62M378.5 254v56M379.5 252v59M380.5 260v41M381.5 259v42M382.5 252v55M383.5 248v62M384.5 254v48M386.5 249v56M388.5 250v53M591.5 203v35M594.5 196v47M596.5 194v48M598.5 194v47M599.5 193v48M600.5 187v58M601.5 196v39M603.5 190v48M604.5 197v33M605.5 185v56M606.5 180v66M607.5 187v50M608.5 184v55M609.5 181v59M610.5 186v49M611.5 175v69M612.5 181v56M613.5 185v46M614.5 180v55M615.5 171v70M616.5 171v68M617.5 172v63M618.5 179v46M619.5 167v68M620.5 167v64M621.5 172v49M622.5 146v97M623.5 160v66M624.5 145v91M625.5 144v85M626.5 154v53M627.5 147v50"/>
<path stroke-opacity="0.22" d="M359.5 291v79M360.5 276v85M361.5 265v84M362.5 277v47M363.5 283v28M364.5 253v84M365.5 267v52M366.5 249v85M367.5 263v55M368.5 256v67M369.5 266v45M370.5 253v70M371.5 246v82M372.5 269v34M373.5 272v27M374.5 253v64M376.5 258v51M377.5 246v73M378.5 248v68M379.5 266v31M380.5 249v64M381.5 266v29M382.5 250v59M383.5 254v50M384.5 255v47M594.5 196v47M598.5 196v43M600.5 186v60M601.5 196v40M604.5 187v53M605.5 184v58M606.5 181v62M609.5 184v53M610.5 191v38M611.5 186v46M612.5 188v41M613.5 180v56M614.5 167v79M615.5 179v53M616.5 175v59M617.5 178v51M618.5 169v66M619.5 169v64M620.5 158v82M621.5 157v79M622.5 162v65M623.5 148v90M624.5 167v46M625.5 160v51M626.5 163v34M627.5 127v88"/>
<path stroke-opacity="0.22" d="M359.5 305v49M360.5 273v89M361.5 266v81M362.5 258v84M363.5 246v101M364.5 274v41M365.5 256v73M366.5 272v39M368.5 248v83M370.5 255v65M371.5 257v60M373.5 249v73M374.5 260v49M377.5 266v33M378.5 263v38M379.5 258v46M380.5 261v39M381.5 246v68M382.5 260v39M383.5 251v56M600.5 190v52M606.5 190v45M610.5 183v54M612.5 182v53M613.5 174v67M614.5 171v72M615.5 165v81M616.5 172v65M617.5 174v58M618.5 158v88M619.5 160v81M620.5 178v41M621.5 162v69M622.5 180v29M623.5 147v91M624.5 143v93M625.5 142v87M626.5 138v82M627.5 129v83"/>
<path stroke-opacity="0.22" d="M359.5 287v82M360.5 267v98M361.5 265v80M362.5 277v45M363.5 270v52M364.5 253v83M365.5 263v59M368.5 273v33M370.5 256v64M371.5 246v82M373.5 257v57M374.5 247v75M378.5 260v44M381.5 249v62M383.5 258v42M610.5 192v36M614.5 186v42M616.5 178v53M617.5 171v64M618.5 183v38M619.5 174v53M620.5 171v55M623.5 173v38M624.5 160v59M625.5 158v54M626.5 148v61M627.5 148v43"/>
<path stroke-opacity="0.22" d="M359.5 297v60M360.5 286v58M361.5 271v67M362.5 259v81M363.5 267v58M364.5 268v53M368.5 252v75M370.5 248v79M374.5 256v57M381.5 258v44M610.5 185v50M616.5 177v54M617.5 182v42M618.5 175v54M619.5 171v59M620.5 151v94M623.5 169v46M624.5 160v58M625.5 141v87M626.5 149v58M627.5 126v85"/>
<path stroke-opacity="0.22" d="M359.5 296v60M360.5 292v45M361.5 263v82M364.5 262v65M370.5 251v73M617.5 176v54M618.5 183v37M619.5 181v38M623.5 143v98M624.5 157v63M625.5 145v78M626.5 159v36M627.5 129v77"/>
<path stroke-opacity="0.22" d="M370.5 270v35"/>
</g>
<defs><path id="nss" d="M358.9 336.7L359.0 335.7 359.1 334.7 359.2 333.8 359.3 332.8 359.4 331.8 359.5 330.8 359.6 329.7 359.7 328.7 359.8 327.7 359.9 326.7 359.9 325.6 360.0 324.6 360.1 323.5 360.2 322.4 360.3 321.3 360.4 320.2 360.5 319.0 360.6 317.9 360.7 316.8 360.8 315.7 360.9 314.7 360.9 313.6 361.0 312.6 361.1 311.6 361.2 310.6 361.3 309.5 361.4 308.5 361.5 307.4 361.6 306.5 361.7 305.6 361.8 304.7 361.8 304.0 362.0 302.8 362.2 301.9 362.4 301.1 362.6 300.3 362.8 299.5 362.9 298.8 363.2 297.8 363.5 297.0 363.8 296.2 364.0 295.5 364.4 294.7 364.7 293.9 365.2 293.2 365.7 292.3 366.3 291.6 366.9 290.9 367.6 290.1 368.4 289.4 369.1 288.8 369.8 288.2 370.5 287.5 371.3 286.9 372.0 286.3 372.7 285.7 373.4 285.1 374.2 284.6 374.9 284.1 375.6 283.6 376.3 283.1 377.1 282.6 377.8 282.1 378.5 281.7 379.2 281.2 380.0 280.8 380.7 280.3 381.4 279.9 382.1 279.4 382.9 279.0 383.6 278.6 384.3 278.1 385.0 277.7 385.8 277.3 386.5 276.9 387.2 276.5 387.9 276.1 388.7 275.7 389.4 275.3 390.1 275.0 390.8 274.6 391.6 274.2 392.3 273.8 393.0 273.5 393.7 273.1 394.5 272.8 395.2 272.4 395.9 272.1 396.6 271.8 397.4 271.5 398.1 271.1 398.8 270.8 399.5 270.5 400.3 270.2 401.0 269.9 401.7 269.6 402.4 269.3 403.2 269.1 403.9 268.8 404.6 268.6 405.3 268.3 406.0 268.1 406.8 267.8 407.5 267.6 408.2 267.3 408.9 267.1 409.7 266.8 410.4 266.6 411.1 266.3 411.8 266.0 412.6 265.8 413.3 265.5 414.0 265.2 414.7 265.0 415.5 264.7 416.2 264.4 416.9 264.2 417.6 263.9 418.4 263.6 419.1 263.3 419.8 263.1 420.5 262.8 421.3 262.5 422.0 262.3 422.7 262.0 423.4 261.7 424.2 261.5 424.9 261.2 425.6 260.9 426.3 260.7 427.1 260.4 427.8 260.1 428.5 259.9 429.2 259.6 430.0 259.4 430.7 259.1 431.4 258.9 432.1 258.6 432.9 258.4 433.6 258.2 434.3 257.9 435.0 257.7 435.8 257.5 436.5 257.3 437.2 257.0 437.9 256.8 438.7 256.6 439.4 256.4 440.1 256.2 440.8 256.0 441.6 255.8 442.3 255.7 443.0 255.5 443.7 255.3 444.5 255.1 445.2 255.0 445.9 254.8 446.6 254.6 447.4 254.5 448.1 254.3 448.8 254.1 449.5 254.0 450.3 253.8 451.0 253.7 451.7 253.5 452.4 253.4 453.1 253.2 453.9 253.1 454.6 252.9 455.3 252.8 456.0 252.6 456.8 252.5 457.5 252.3 458.2 252.2 458.9 252.0 459.7 251.9 460.4 251.7 461.1 251.6 461.8 251.4 462.6 251.3 463.3 251.1 464.0 251.0 464.7 250.8 465.5 250.7 466.2 250.5 466.9 250.4 467.6 250.2 468.4 250.1 469.1 249.9 469.8 249.8 470.5 249.6 471.3 249.5 472.0 249.3 472.7 249.2 473.4 249.0 474.2 248.9 474.9 248.7 475.6 248.6 476.3 248.5 477.1 248.3 477.8 248.2 478.5 248.0 479.2 247.9 480.0 247.7 480.7 247.6 481.4 247.4 482.1 247.3 482.9 247.1 483.6 247.0 484.3 246.8 485.0 246.7 485.8 246.5 486.5 246.3 487.2 246.2 487.9 246.0 488.7 245.9 489.4 245.7 490.1 245.6 490.8 245.4 491.6 245.3 492.3 245.1 493.0 245.0 493.7 244.8 494.5 244.7 495.2 244.5 495.9 244.4 496.6 244.2 497.3 244.1 498.1 243.9 498.8 243.8 499.5 243.6 500.2 243.4 501.0 243.3 501.7 243.1 502.4 243.0 503.1 242.8 503.9 242.7 504.6 242.5 505.3 242.4 506.0 242.3 506.8 242.1 507.5 242.0 508.2 241.8 508.9 241.7 509.7 241.5 510.4 241.4 511.1 241.2 511.8 241.1 512.6 240.9 513.3 240.8 514.0 240.6 514.7 240.5 515.5 240.3 516.2 240.1 516.9 240.0 517.6 239.8 518.4 239.7 519.1 239.5 519.8 239.3 520.5 239.2 521.3 239.0 522.0 238.8 522.7 238.7 523.4 238.5 524.2 238.3 524.9 238.1 525.6 238.0 526.3 237.8 527.1 237.6 527.8 237.4 528.5 237.2 529.2 237.1 530.0 236.9 530.7 236.7 531.4 236.5 532.1 236.3 532.9 236.1 533.6 236.0 534.3 235.8 535.0 235.6 535.8 235.4 536.5 235.2 537.2 235.0 537.9 234.8 538.7 234.6 539.4 234.5 540.1 234.3 540.8 234.1 541.6 233.9 542.3 233.7 543.0 233.5 543.7 233.3 544.4 233.1 545.2 232.9 545.9 232.7 546.6 232.5 547.3 232.3 548.1 232.1 548.8 231.9 549.5 231.7 550.2 231.5 551.0 231.3 551.7 231.1 552.4 230.9 553.1 230.7 553.9 230.5 554.6 230.3 555.3 230.1 556.0 230.0 556.8 229.8 557.5 229.6 558.2 229.4 558.9 229.2 559.7 229.1 560.4 228.9 561.1 228.8 561.8 228.6 562.6 228.5 563.3 228.3 564.0 228.2 564.7 228.1 565.5 227.9 566.2 227.8 566.9 227.7 567.6 227.5 568.4 227.4 569.1 227.2 569.8 227.0 570.5 226.9 571.3 226.7 572.0 226.5 572.7 226.3 573.4 226.1 574.2 225.9 574.9 225.7 575.6 225.5 576.3 225.3 577.1 225.1 577.8 224.9 578.5 224.7 579.2 224.4 580.0 224.2 580.7 224.0 581.4 223.7 582.1 223.5 582.9 223.3 583.6 223.0 584.3 222.8 585.0 222.5 585.8 222.3 586.5 222.0 587.2 221.8 587.9 221.5 588.6 221.2 589.4 221.0 590.1 220.7 590.8 220.4 591.5 220.1 592.3 219.8 593.0 219.5 593.7 219.2 594.4 218.9 595.2 218.6 595.9 218.2 596.6 217.9 597.3 217.6 598.1 217.2 598.8 216.9 599.5 216.5 600.2 216.1 601.0 215.7 601.7 215.2 602.4 214.7 603.1 214.2 603.9 213.7 604.6 213.3 605.3 212.8 606.0 212.4 606.8 212.0 607.5 211.6 608.2 211.2 608.9 210.8 609.7 210.4 610.4 209.9 611.1 209.4 611.8 208.9 612.6 208.3 613.3 207.7 614.0 207.0 614.7 206.3 615.5 205.5 616.1 204.8 616.7 204.0 617.4 203.2 618.0 202.4 618.5 201.7 619.1 200.9 619.6 200.1 620.2 199.3 620.6 198.5 621.1 197.8 621.5 196.9 621.9 196.2 622.3 195.5 622.6 194.7 623.0 193.9 623.3 193.0 623.7 192.1 624.0 191.3 624.2 190.5 624.5 189.7 624.8 188.8 625.1 187.8 625.2 187.0 625.4 186.2 625.6 185.3 625.8 184.4 626.0 183.3 626.1 182.3 626.3 181.1 626.5 179.9 626.7 178.7 626.9 177.3 627.0 176.5 627.1 175.8 627.1 175.0 627.2 174.2 627.3 173.4 627.4 172.5 627.5 171.6 627.6 170.7 627.7 169.8 627.8 168.9 627.9 167.9 628.0 167.0 628.0 166.0"/></defs><g fill="none" stroke="#000" stroke-linecap="round" stroke-linejoin="round"><use href="#nss" stroke-opacity="0.7" stroke-width="9.0"/><use href="#nss" stroke-opacity="0.950" stroke-width="7.4"/></g>
<path d="M358.9 336.7L359.0 335.7 359.1 334.7 359.2 333.8 359.3 332.8 359.4 331.8 359.5 330.8 359.6 329.7 359.7 328.7 359.8 327.7 359.9 326.7 359.9 325.6 360.0 324.6 360.1 323.5 360.2 322.4 360.3 321.3 360.4 320.2 360.5 319.0 360.6 317.9 360.7 316.8 360.8 315.7 360.9 314.7 360.9 313.6 361.0 312.6 361.1 311.6 361.2 310.6 361.3 309.5 361.4 308.5 361.5 307.4 361.6 306.5 361.7 305.6 361.8 304.7 361.8 304.0 361.9 303.4M362.1 302.4L362.3 301.5 362.5 300.7 362.7 299.9 362.8 299.2 363.1 298.2 363.4 297.3M363.6 296.7L363.8 296.0 364.2 295.1 364.6 294.3 365.0 293.5 365.4 292.9M365.6 292.6h0M365.7 292.3L365.9 292.1M366.1 291.8L366.6 291.2M366.9 290.9L367.0 290.8M367.3 290.5h0M367.5 290.3L367.6 290.2M367.7 290.0L368.5 289.4M368.6 289.2L368.9 289.0M369.1 288.8h0M369.5 288.5L370.2 287.8 370.9 287.2 371.6 286.6 371.8 286.4M372.1 286.2h0M372.4 286.0L372.4 285.9M372.6 285.7L372.8 285.6M373.0 285.5L373.4 285.1M373.6 285.0L373.8 284.8M374.0 284.7L374.3 284.5M374.4 284.4L375.1 284.0M375.3 283.8h0M375.5 283.6L375.6 283.6M375.8 283.5h0M376.0 283.3h0M376.2 283.2L376.3 283.1M376.5 283.0h0M376.7 282.9L376.8 282.8M377.0 282.7h0M377.2 282.6L377.5 282.3M377.8 282.1L378.2 281.9M378.4 281.7L378.7 281.6M378.9 281.5L379.2 281.2M379.4 281.1h0M379.6 281.0L379.9 280.8M380.1 280.7L380.3 280.5M380.6 280.4h0M380.8 280.3L381.4 279.9M381.6 279.8L382.0 279.5M382.2 279.4L382.3 279.3M382.5 279.2L382.7 279.1M382.9 279.0L383.1 278.8M383.3 278.7L383.8 278.5M383.9 278.4L384.1 278.2M384.3 278.1L384.4 278.1M384.7 277.9h0M384.9 277.8L384.9 277.8M385.1 277.7L385.2 277.6M385.5 277.5L385.7 277.4M386.1 277.1L386.2 277.1M386.4 277.0L386.5 276.9M386.8 276.8L386.8 276.7M387.3 276.5L387.5 276.4M387.8 276.2L387.8 276.2M388.1 276.0L388.2 276.0M388.4 275.9L388.5 275.8M388.7 275.7h0M388.8 275.6h0M389.4 275.3L389.6 275.2M390.5 274.8L390.7 274.6M390.9 274.5L391.0 274.5M391.5 274.3h0M391.9 274.0L392.0 274.0M392.2 273.9h0M392.5 273.8h0M393.1 273.4h0M393.5 273.3L393.5 273.2M393.7 273.1h0M394.1 273.0L394.3 272.9M394.5 272.8L394.5 272.7M395.5 272.3h0M395.9 272.1h0M396.6 271.8h0M396.9 271.7L397.0 271.6M397.4 271.4h0M397.6 271.3L397.7 271.3M397.9 271.2h0M398.1 271.1L398.3 271.0M398.8 270.8h0M399.1 270.7h0M399.3 270.6h0M399.8 270.4h0M400.3 270.2h0M400.5 270.1h0M400.9 269.9h0M401.2 269.8h0M401.8 269.6h0M402.3 269.4L402.4 269.3M402.6 269.3h0M403.1 269.1h0M403.3 269.0h0M403.6 268.9h0M404.4 268.6h0M404.9 268.5h0M405.1 268.4h0M405.6 268.2h0M406.3 268.0L406.4 267.9M406.8 267.8h0M408.0 267.4h0M408.8 267.1h0M409.4 266.9h0M409.8 266.8h0M410.4 266.6L410.5 266.5M410.8 266.4h0M411.9 266.0h0M414.0 265.2h0M414.9 264.9L415.0 264.9M415.4 264.7h0M415.6 264.7h0M416.0 264.5h0M419.0 263.4h0M419.5 263.2h0M426.2 260.7L426.2 260.7M545.9 232.7h0M551.8 231.1h0M561.5 228.7h0M563.4 228.3h0M563.6 228.3h0M566.0 227.8h0M566.2 227.8h0M567.9 227.5h0M568.2 227.4h0M569.6 227.1h0M572.4 226.4h0M572.7 226.3h0M574.2 225.9h0M574.5 225.8h0M575.1 225.7h0M575.4 225.6h0M575.6 225.5h0M575.8 225.5h0M576.2 225.4h0M577.7 224.9h0M578.3 224.7h0M578.9 224.6h0M579.0 224.5h0M579.2 224.4h0M579.7 224.3h0M580.6 224.0h0M581.1 223.8h0M581.5 223.7h0M581.8 223.6h0M582.4 223.4h0M582.6 223.4h0M582.9 223.2L583.0 223.2M583.3 223.1h0M583.8 222.9h0M584.7 222.7h0M584.8 222.6h0M586.3 222.1L586.4 222.1M587.0 221.8h0M587.3 221.7h0M587.7 221.6h0M588.9 221.1L589.0 221.1M589.7 220.8h0M590.1 220.7h0M590.3 220.6h0M590.5 220.5h0M591.0 220.3L591.3 220.2M591.7 220.0L591.8 220.0M592.4 219.8h0M592.5 219.7L592.6 219.7M592.8 219.6L592.9 219.5M593.2 219.4h0M593.6 219.2L593.9 219.1M594.1 219.0h0M594.3 219.0h0M594.4 218.9L594.7 218.8M594.9 218.7h0M595.4 218.5h0M595.5 218.4h0M595.9 218.2L596.3 218.1M596.5 218.0L596.6 217.9M596.8 217.8h0M597.1 217.7L597.3 217.6M598.1 217.2h0M598.3 217.1h0M598.4 217.0L598.5 217.0M598.7 216.9L598.9 216.8M599.1 216.7h0M599.3 216.6L599.4 216.5M599.7 216.4L599.8 216.4M600.0 216.3L600.1 216.2M600.2 216.1L600.4 216.0M600.6 215.9h0M600.8 215.8L601.5 215.4M601.8 215.2h0M602.1 215.0L602.1 214.9M602.3 214.8h0M602.8 214.5h0M603.2 214.2h0M603.4 214.1L603.8 213.8M604.0 213.6L604.4 213.4M604.7 213.2L604.8 213.1M605.2 212.9L605.3 212.8M605.5 212.7L605.8 212.5M605.9 212.4L606.1 212.3M606.3 212.2L606.6 212.1M606.8 212.0L606.9 211.9M607.0 211.8L607.1 211.8M607.3 211.7L607.4 211.6M607.6 211.5h0M607.8 211.4h0M608.1 211.2h0M608.3 211.1h0M608.5 211.0L608.6 211.0M608.8 210.9h0M608.9 210.8L609.1 210.7M609.3 210.6h0M609.7 210.4L610.1 210.1M610.3 210.0L610.9 209.6M611.1 209.4h0M611.4 209.3L611.7 209.1M611.8 208.9L611.9 208.9M612.1 208.7L612.6 208.3M612.7 208.2L612.8 208.1M613.0 208.0h0M613.2 207.8L613.7 207.3M614.0 207.0L614.5 206.6M614.6 206.4L614.7 206.3M614.9 206.1h0M615.1 205.9L615.2 205.8M615.4 205.6L615.6 205.3M615.8 205.1L615.9 205.0M616.1 204.8L616.3 204.5M616.5 204.3L617.1 203.6 617.7 202.8 618.3 202.0 618.8 201.3 619.4 200.5 619.9 199.7 620.0 199.6M620.2 199.3L620.6 198.5 621.1 197.8 621.2 197.6M621.3 197.3L621.4 197.1M621.6 196.8h0M621.8 196.4L622.0 196.0M622.2 195.7L622.3 195.3M622.6 194.7L623.0 193.9 623.3 193.0 623.7 192.1 624.0 191.3 624.2 190.5 624.5 189.7 624.8 188.8 625.1 187.8 625.2 187.0 625.4 186.2 625.6 185.3 625.8 184.4 626.0 183.3 626.1 182.3 626.3 181.1 626.5 179.9 626.7 178.7 626.9 177.3 627.0 176.5 627.1 175.8 627.1 175.0 627.2 174.2 627.3 173.4 627.4 172.5 627.5 171.6 627.6 170.7 627.7 169.8 627.8 168.9 627.9 167.9 628.0 167.0 628.0 166.0" fill="none" stroke="#000" stroke-width="9.0" stroke-linecap="round" stroke-linejoin="round" shape-rendering="crispEdges"/>
<g fill="none" stroke="#333" stroke-width="1" shape-rendering="crispEdges"><rect x="43.5" y="56.5" width="295" height="394"/><rect x="345.5" y="56.5" width="296" height="394"/></g>
<g stroke="#333" stroke-width="1" shape-rendering="crispEdges"><path d="M39 59.5H43"/><path d="M39 152.5H43"/><path d="M39 245.5H43"/><path d="M39 339.5H43"/><path d="M39 432.5H43"/></g>
<g font-size="12.4" fill="#4D4D4D" text-anchor="end"><text x="36" y="64.5">2</text><text x="36" y="157.5">1</text><text x="36" y="250.5">0</text><text x="36" y="344.5">-1</text><text x="36" y="437.5">-2</text></g>
<text x="342.5" y="469.6" font-size="14.67" fill="#000" text-anchor="middle">Group</text>
<text transform="translate(20,253.5) rotate(-90)" font-size="14.67" fill="#000" text-anchor="middle">Effect Range</text>
</svg></body></html>
